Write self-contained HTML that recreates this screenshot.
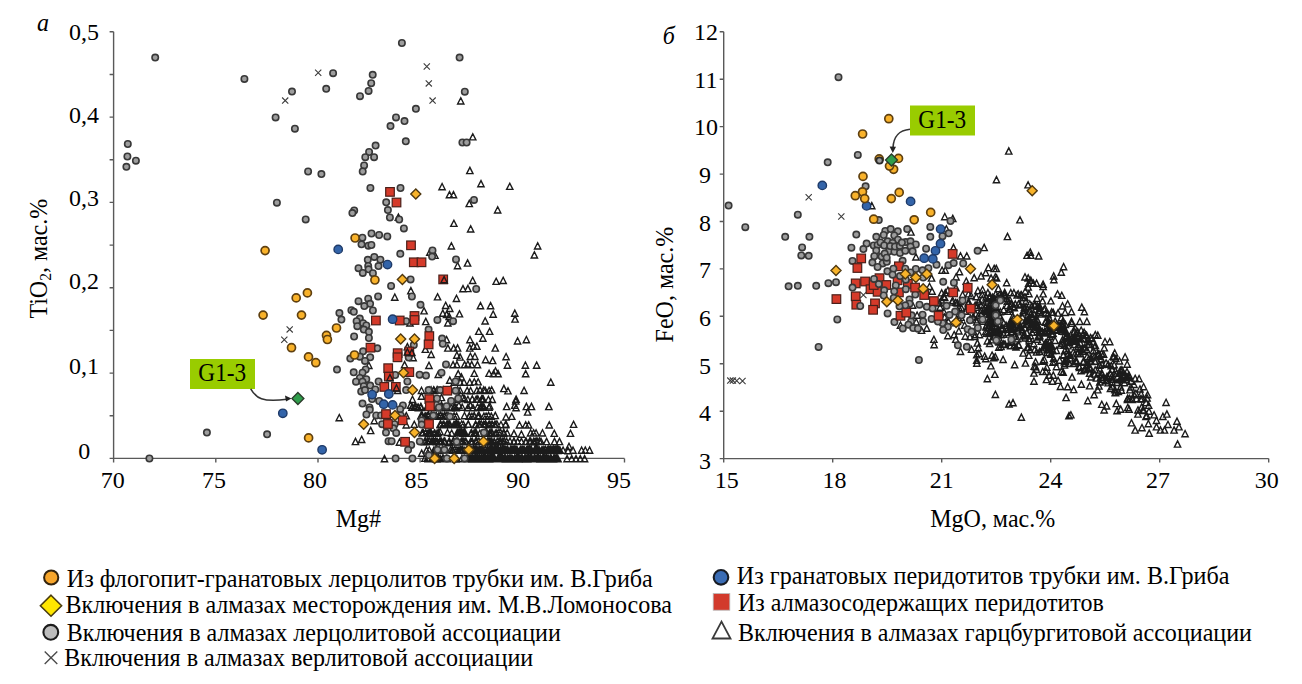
<!DOCTYPE html>
<html><head><meta charset="utf-8"><title>chart</title>
<style>
html,body{margin:0;padding:0;background:#fff;}
svg{display:block;font-family:"Liberation Serif",serif;font-size:24px;fill:#000;}
</style></head><body>
<svg width="1302" height="684" viewBox="0 0 1302 684">
<rect width="1302" height="684" fill="#fff"/>
<path d="M113.6 31.8V458.4H624.5M109.6 31.8h4M109.6 74.5h4M109.6 117.1h4M109.6 159.8h4M109.6 202.4h4M109.6 245.1h4M109.6 287.8h4M109.6 330.4h4M109.6 373.1h4M109.6 415.7h4M109.6 458.4h4M113.6 458.4v4M215.8 458.4v4M318 458.4v4M420.1 458.4v4M522.3 458.4v4M624.5 458.4v4M723.7 31.8V458.6H1268.7M719.7 31.8h4M719.7 79.2h4M719.7 126.6h4M719.7 174.1h4M719.7 221.5h4M719.7 268.9h4M719.7 316.3h4M719.7 363.8h4M719.7 411.2h4M719.7 458.6h4M723.7 458.6v4M832.7 458.6v4M941.7 458.6v4M1050.7 458.6v4M1159.7 458.6v4M1268.7 458.6v4" fill="none" stroke="#595959" stroke-width="1.4"/>
<g><path d="M498.8 455l3.1 6.2h-6.3zM527.9 454.9l3.1 6.2h-6.3zM517.7 455.2l3.1 6.2h-6.3zM475.2 455.4l3.1 6.2h-6.3zM473.3 455.3l3.1 6.2h-6.3zM476.2 454.9l3.1 6.2h-6.3zM507.8 455.7l3.1 6.2h-6.3zM481 455.1l3.1 6.2h-6.3zM525.8 455.8l3.1 6.2h-6.3zM521.4 455.2l3.1 6.2h-6.3zM556.9 454.9l3.1 6.2h-6.3zM546.4 455.1l3.1 6.2h-6.3zM482.8 455l3.1 6.2h-6.3zM497.5 455.7l3.1 6.2h-6.3zM486.1 455.4l3.1 6.2h-6.3zM526.9 455.2l3.1 6.2h-6.3zM518.7 454.9l3.1 6.2h-6.3zM475.3 455.1l3.1 6.2h-6.3zM530.6 455.3l3.1 6.2h-6.3zM498 455.4l3.1 6.2h-6.3zM510.3 455.1l3.1 6.2h-6.3zM540.7 455.5l3.1 6.2h-6.3zM491.7 455.4l3.1 6.2h-6.3zM516.7 455.7l3.1 6.2h-6.3zM534.9 455.1l3.1 6.2h-6.3zM557.2 455l3.1 6.2h-6.3zM507.2 455.6l3.1 6.2h-6.3zM483.5 455.3l3.1 6.2h-6.3zM473.5 455.5l3.1 6.2h-6.3zM538 455.4l3.1 6.2h-6.3zM547.9 455.2l3.1 6.2h-6.3zM531.9 455.4l3.1 6.2h-6.3zM521.6 455.3l3.1 6.2h-6.3zM544.8 455.8l3.1 6.2h-6.3zM512.2 455.5l3.1 6.2h-6.3zM475.4 455.6l3.1 6.2h-6.3zM527.6 455.8l3.1 6.2h-6.3zM543.2 455.1l3.1 6.2h-6.3zM504.3 455.5l3.1 6.2h-6.3zM472 455.3l3.1 6.2h-6.3zM485 455l3.1 6.2h-6.3zM475.2 455.6l3.1 6.2h-6.3zM481.5 455.1l3.1 6.2h-6.3zM504.8 455.7l3.1 6.2h-6.3zM477.2 455.3l3.1 6.2h-6.3zM518.9 455.7l3.1 6.2h-6.3zM542.9 455.7l3.1 6.2h-6.3zM494.8 455.3l3.1 6.2h-6.3zM501.9 455.7l3.1 6.2h-6.3zM555.2 455l3.1 6.2h-6.3zM485.7 455.1l3.1 6.2h-6.3zM490.8 455.3l3.1 6.2h-6.3zM522.4 455.1l3.1 6.2h-6.3zM470.4 455.3l3.1 6.2h-6.3zM502.9 455.4l3.1 6.2h-6.3zM554.8 455.5l3.1 6.2h-6.3zM515.9 455.5l3.1 6.2h-6.3zM530.2 454.9l3.1 6.2h-6.3zM550.1 455.6l3.1 6.2h-6.3zM547.8 455.6l3.1 6.2h-6.3zM504.9 455.2l3.1 6.2h-6.3zM479.2 455.5l3.1 6.2h-6.3zM475.5 454.9l3.1 6.2h-6.3zM488.6 455l3.1 6.2h-6.3zM500.3 454.9l3.1 6.2h-6.3zM470 455l3.1 6.2h-6.3zM479 455.2l3.1 6.2h-6.3zM472.3 455.7l3.1 6.2h-6.3zM524.7 455l3.1 6.2h-6.3zM492.5 455.2l3.1 6.2h-6.3zM502.4 455l3.1 6.2h-6.3zM545.6 455.8l3.1 6.2h-6.3zM511.5 455.3l3.1 6.2h-6.3zM477.6 455l3.1 6.2h-6.3zM500.5 455.1l3.1 6.2h-6.3zM543.8 455l3.1 6.2h-6.3zM472.1 455.8l3.1 6.2h-6.3zM517 455l3.1 6.2h-6.3zM518.3 454.9l3.1 6.2h-6.3zM517 455.8l3.1 6.2h-6.3zM546.8 455.5l3.1 6.2h-6.3zM493.2 455.2l3.1 6.2h-6.3zM484.9 455.6l3.1 6.2h-6.3zM517.4 455.6l3.1 6.2h-6.3zM499.3 455.1l3.1 6.2h-6.3zM542.2 455.8l3.1 6.2h-6.3zM545.9 455.7l3.1 6.2h-6.3zM542.8 455.6l3.1 6.2h-6.3zM490.2 455.4l3.1 6.2h-6.3zM501.6 454.9l3.1 6.2h-6.3zM472.5 455.1l3.1 6.2h-6.3zM493.1 455.5l3.1 6.2h-6.3zM555.1 455.3l3.1 6.2h-6.3zM553.4 455.8l3.1 6.2h-6.3zM555 455.2l3.1 6.2h-6.3zM489.6 455.1l3.1 6.2h-6.3zM487.5 455.1l3.1 6.2h-6.3zM525.5 455.8l3.1 6.2h-6.3zM544.8 455.3l3.1 6.2h-6.3zM528.1 455.6l3.1 6.2h-6.3zM477.5 455.5l3.1 6.2h-6.3zM551 455.6l3.1 6.2h-6.3zM536.8 455.3l3.1 6.2h-6.3zM485.9 455.6l3.1 6.2h-6.3zM499.6 455.7l3.1 6.2h-6.3zM556.5 455.2l3.1 6.2h-6.3zM505.7 455.8l3.1 6.2h-6.3zM534.5 455l3.1 6.2h-6.3zM481.3 455l3.1 6.2h-6.3zM550.5 455.7l3.1 6.2h-6.3zM483 455.7l3.1 6.2h-6.3zM557.2 455.5l3.1 6.2h-6.3zM501.2 455.4l3.1 6.2h-6.3zM481.7 454.9l3.1 6.2h-6.3zM556.4 455.5l3.1 6.2h-6.3zM516.9 455.8l3.1 6.2h-6.3zM508.6 455.7l3.1 6.2h-6.3zM543.5 455.1l3.1 6.2h-6.3zM492.4 455.1l3.1 6.2h-6.3zM491.4 455.4l3.1 6.2h-6.3zM493.1 455.3l3.1 6.2h-6.3zM481.7 455.8l3.1 6.2h-6.3zM501.5 455.3l3.1 6.2h-6.3zM521.9 455.8l3.1 6.2h-6.3zM507.4 455.8l3.1 6.2h-6.3zM514.6 455.4l3.1 6.2h-6.3zM516.6 454.9l3.1 6.2h-6.3zM509.2 455l3.1 6.2h-6.3zM470.3 455.6l3.1 6.2h-6.3zM485.3 455.3l3.1 6.2h-6.3zM534.5 455.4l3.1 6.2h-6.3zM499 455.4l3.1 6.2h-6.3zM519.4 455.6l3.1 6.2h-6.3zM479.4 455.4l3.1 6.2h-6.3zM492.1 455.1l3.1 6.2h-6.3zM538.7 455.4l3.1 6.2h-6.3zM520 455.6l3.1 6.2h-6.3zM551.2 455.3l3.1 6.2h-6.3zM524.5 455.4l3.1 6.2h-6.3zM515.6 455.5l3.1 6.2h-6.3zM510.3 455.4l3.1 6.2h-6.3zM512.5 455.8l3.1 6.2h-6.3zM532.2 455.7l3.1 6.2h-6.3zM553.9 455.1l3.1 6.2h-6.3zM519.8 455.8l3.1 6.2h-6.3zM544.8 455l3.1 6.2h-6.3zM480.8 455.3l3.1 6.2h-6.3zM476.5 455.1l3.1 6.2h-6.3zM476.5 455.5l3.1 6.2h-6.3zM539.8 455.7l3.1 6.2h-6.3zM483.7 455.6l3.1 6.2h-6.3zM528.8 455l3.1 6.2h-6.3zM548.6 455.8l3.1 6.2h-6.3zM489.5 455.8l3.1 6.2h-6.3zM505.4 455.3l3.1 6.2h-6.3zM558.1 455.7l3.1 6.2h-6.3zM484.4 455.3l3.1 6.2h-6.3zM515.9 455.2l3.1 6.2h-6.3zM487.4 455.2l3.1 6.2h-6.3zM534.3 454.9l3.1 6.2h-6.3zM519.3 455.3l3.1 6.2h-6.3zM471.6 455.2l3.1 6.2h-6.3zM525.5 455.4l3.1 6.2h-6.3zM475.7 455.8l3.1 6.2h-6.3zM540.2 455.8l3.1 6.2h-6.3zM479.3 455.1l3.1 6.2h-6.3zM473.5 455.6l3.1 6.2h-6.3zM494.1 455l3.1 6.2h-6.3zM507.6 455.8l3.1 6.2h-6.3zM542.9 455.1l3.1 6.2h-6.3zM483.3 455.8l3.1 6.2h-6.3zM520.8 455.6l3.1 6.2h-6.3zM478 454.9l3.1 6.2h-6.3zM531.3 455.3l3.1 6.2h-6.3zM476.4 455.8l3.1 6.2h-6.3zM526.5 455.7l3.1 6.2h-6.3zM477.5 455.7l3.1 6.2h-6.3zM475.9 455.7l3.1 6.2h-6.3zM510.4 455.2l3.1 6.2h-6.3zM519.2 455.8l3.1 6.2h-6.3zM493.8 455l3.1 6.2h-6.3zM516.9 455.1l3.1 6.2h-6.3zM479.7 455l3.1 6.2h-6.3zM474.5 455.1l3.1 6.2h-6.3zM497.8 455.2l3.1 6.2h-6.3zM537.6 455.1l3.1 6.2h-6.3zM514.5 455l3.1 6.2h-6.3zM500.9 454.9l3.1 6.2h-6.3zM492.3 454.9l3.1 6.2h-6.3zM535.2 455.4l3.1 6.2h-6.3zM433.5 455.3l3.1 6.2h-6.3zM467.1 455l3.1 6.2h-6.3zM461.9 455.3l3.1 6.2h-6.3zM447.3 455.7l3.1 6.2h-6.3zM442.7 455.4l3.1 6.2h-6.3zM455.9 455.8l3.1 6.2h-6.3zM440.4 455.7l3.1 6.2h-6.3zM456.8 455.5l3.1 6.2h-6.3zM443.2 455.2l3.1 6.2h-6.3zM427.4 455l3.1 6.2h-6.3zM428.2 455.6l3.1 6.2h-6.3zM436.5 455l3.1 6.2h-6.3zM428.8 455.7l3.1 6.2h-6.3zM464.2 455.5l3.1 6.2h-6.3zM437.7 455.1l3.1 6.2h-6.3zM438.2 455.3l3.1 6.2h-6.3zM432.1 455.3l3.1 6.2h-6.3zM436.8 455.8l3.1 6.2h-6.3zM468.8 455.4l3.1 6.2h-6.3zM436 455.8l3.1 6.2h-6.3zM438.9 455.2l3.1 6.2h-6.3zM425 455.2l3.1 6.2h-6.3zM446.4 455.4l3.1 6.2h-6.3zM434 455.4l3.1 6.2h-6.3zM470.4 446.6l3.1 6.2h-6.3zM478.1 446.7l3.1 6.2h-6.3zM473.8 446.3l3.1 6.2h-6.3zM497.4 446.6l3.1 6.2h-6.3zM522.7 446.8l3.1 6.2h-6.3zM537.5 447l3.1 6.2h-6.3zM534.4 447.2l3.1 6.2h-6.3zM505.1 446.6l3.1 6.2h-6.3zM558.6 446.5l3.1 6.2h-6.3zM535.2 447l3.1 6.2h-6.3zM473.9 447.2l3.1 6.2h-6.3zM550.3 446.9l3.1 6.2h-6.3zM536 447.1l3.1 6.2h-6.3zM482.5 446.8l3.1 6.2h-6.3zM515.4 447.2l3.1 6.2h-6.3zM542.4 447.1l3.1 6.2h-6.3zM522.6 447.2l3.1 6.2h-6.3zM531.5 447l3.1 6.2h-6.3zM490.7 446.4l3.1 6.2h-6.3zM482 446.7l3.1 6.2h-6.3zM479.4 447.2l3.1 6.2h-6.3zM520.3 446.9l3.1 6.2h-6.3zM526.4 447l3.1 6.2h-6.3zM514 446.3l3.1 6.2h-6.3zM541.8 447.1l3.1 6.2h-6.3zM515.3 446.9l3.1 6.2h-6.3zM529.3 446.4l3.1 6.2h-6.3zM536.3 446.6l3.1 6.2h-6.3zM476.7 446.6l3.1 6.2h-6.3zM535.6 446.5l3.1 6.2h-6.3zM536.6 447.3l3.1 6.2h-6.3zM514.5 446.7l3.1 6.2h-6.3zM513.1 447l3.1 6.2h-6.3zM539 446.9l3.1 6.2h-6.3zM527.8 446.4l3.1 6.2h-6.3zM483.3 446.6l3.1 6.2h-6.3zM536.9 446.6l3.1 6.2h-6.3zM521.1 446.3l3.1 6.2h-6.3zM475.5 446.6l3.1 6.2h-6.3zM530.5 447l3.1 6.2h-6.3zM530.8 446.6l3.1 6.2h-6.3zM516.5 446.8l3.1 6.2h-6.3zM512 446.4l3.1 6.2h-6.3zM550.4 446.5l3.1 6.2h-6.3zM558 447.3l3.1 6.2h-6.3zM471.6 446.8l3.1 6.2h-6.3zM543.8 447.3l3.1 6.2h-6.3zM510.5 446.6l3.1 6.2h-6.3zM488.9 447.3l3.1 6.2h-6.3zM489 446.9l3.1 6.2h-6.3zM482.8 446.8l3.1 6.2h-6.3zM555.7 446.5l3.1 6.2h-6.3zM543.8 446.8l3.1 6.2h-6.3zM549.8 447l3.1 6.2h-6.3zM490.8 447.2l3.1 6.2h-6.3zM513.8 446.3l3.1 6.2h-6.3zM470.3 446.8l3.1 6.2h-6.3zM510.6 446.6l3.1 6.2h-6.3zM482.7 446.7l3.1 6.2h-6.3zM498.4 447.2l3.1 6.2h-6.3zM470.2 447.1l3.1 6.2h-6.3zM545.5 446.4l3.1 6.2h-6.3zM553.4 447l3.1 6.2h-6.3zM551.1 446.6l3.1 6.2h-6.3zM503.5 446.7l3.1 6.2h-6.3zM559.9 446.9l3.1 6.2h-6.3zM502.5 446.7l3.1 6.2h-6.3zM494.8 446.4l3.1 6.2h-6.3zM479.2 447.2l3.1 6.2h-6.3zM495.7 447.3l3.1 6.2h-6.3zM492.4 446.6l3.1 6.2h-6.3zM516 446.5l3.1 6.2h-6.3zM503.6 447.3l3.1 6.2h-6.3zM549.6 447.1l3.1 6.2h-6.3zM526.8 447.2l3.1 6.2h-6.3zM554.7 446.9l3.1 6.2h-6.3zM534.8 446.4l3.1 6.2h-6.3zM535.9 446.8l3.1 6.2h-6.3zM537.7 447l3.1 6.2h-6.3zM495.8 446.4l3.1 6.2h-6.3zM553.4 446.4l3.1 6.2h-6.3zM512.5 446.7l3.1 6.2h-6.3zM496.8 447.1l3.1 6.2h-6.3zM557.9 446.6l3.1 6.2h-6.3zM529 446.6l3.1 6.2h-6.3zM520.2 446.7l3.1 6.2h-6.3zM485.1 446.5l3.1 6.2h-6.3zM488.7 447.2l3.1 6.2h-6.3zM514.7 446.5l3.1 6.2h-6.3zM551.6 447.3l3.1 6.2h-6.3zM510.5 446.5l3.1 6.2h-6.3zM487.3 446.4l3.1 6.2h-6.3zM500.8 446.4l3.1 6.2h-6.3zM491.5 446.6l3.1 6.2h-6.3zM521.3 447.2l3.1 6.2h-6.3zM537.5 446.7l3.1 6.2h-6.3zM507.2 446.8l3.1 6.2h-6.3zM503.9 446.7l3.1 6.2h-6.3zM475.6 446.6l3.1 6.2h-6.3zM557.1 446.4l3.1 6.2h-6.3zM515.3 446.9l3.1 6.2h-6.3zM547.7 446.5l3.1 6.2h-6.3zM494.4 446.6l3.1 6.2h-6.3zM506 446.8l3.1 6.2h-6.3zM555.9 447.2l3.1 6.2h-6.3zM548.6 446.3l3.1 6.2h-6.3zM472.9 447l3.1 6.2h-6.3zM550.6 446.8l3.1 6.2h-6.3zM522.8 446.3l3.1 6.2h-6.3zM505.2 447.2l3.1 6.2h-6.3zM544.3 447.2l3.1 6.2h-6.3zM557.5 446.6l3.1 6.2h-6.3zM479.8 446.5l3.1 6.2h-6.3zM517 447l3.1 6.2h-6.3zM554.7 447l3.1 6.2h-6.3zM528.3 447.1l3.1 6.2h-6.3zM511.2 446.9l3.1 6.2h-6.3zM473.6 447.1l3.1 6.2h-6.3zM490.9 447.2l3.1 6.2h-6.3zM528.1 446.6l3.1 6.2h-6.3zM481.5 446.6l3.1 6.2h-6.3zM527.3 447l3.1 6.2h-6.3zM480.1 446.4l3.1 6.2h-6.3zM517.2 446.9l3.1 6.2h-6.3zM504.9 446.5l3.1 6.2h-6.3zM524.1 446.3l3.1 6.2h-6.3zM497.1 446.8l3.1 6.2h-6.3zM556.3 447l3.1 6.2h-6.3zM549.5 446.8l3.1 6.2h-6.3zM491.1 446.6l3.1 6.2h-6.3zM556.5 447l3.1 6.2h-6.3zM497.7 446.3l3.1 6.2h-6.3zM514.8 447l3.1 6.2h-6.3zM507.8 446.6l3.1 6.2h-6.3zM530.1 447.2l3.1 6.2h-6.3zM490.4 446.4l3.1 6.2h-6.3zM500.4 446.7l3.1 6.2h-6.3zM531.4 446.5l3.1 6.2h-6.3zM541.7 447.1l3.1 6.2h-6.3zM515.4 446.5l3.1 6.2h-6.3zM557.3 446.6l3.1 6.2h-6.3zM543.8 446.6l3.1 6.2h-6.3zM489.9 447.1l3.1 6.2h-6.3zM496.5 447.3l3.1 6.2h-6.3zM514.6 446.5l3.1 6.2h-6.3zM490.1 446.7l3.1 6.2h-6.3zM529.9 447.3l3.1 6.2h-6.3zM483.2 446.7l3.1 6.2h-6.3zM489.2 447.3l3.1 6.2h-6.3zM482.8 446.4l3.1 6.2h-6.3zM475.4 446.7l3.1 6.2h-6.3zM550.8 447.2l3.1 6.2h-6.3zM535.9 447.3l3.1 6.2h-6.3zM553.8 446.6l3.1 6.2h-6.3zM486.7 447.3l3.1 6.2h-6.3zM537.2 446.4l3.1 6.2h-6.3zM529.8 446.7l3.1 6.2h-6.3zM503.6 446.7l3.1 6.2h-6.3zM485.2 446.3l3.1 6.2h-6.3zM495.2 446.7l3.1 6.2h-6.3zM556 446.4l3.1 6.2h-6.3zM556.8 446.5l3.1 6.2h-6.3zM502.1 447.1l3.1 6.2h-6.3zM544 446.8l3.1 6.2h-6.3zM474.4 446.8l3.1 6.2h-6.3zM503.5 447.2l3.1 6.2h-6.3zM487.4 446.7l3.1 6.2h-6.3zM550.7 446.4l3.1 6.2h-6.3zM507 447.1l3.1 6.2h-6.3zM539 446.4l3.1 6.2h-6.3zM473.1 446.4l3.1 6.2h-6.3zM552.8 446.6l3.1 6.2h-6.3zM537.3 447.2l3.1 6.2h-6.3zM500.5 446.6l3.1 6.2h-6.3zM556.2 446.9l3.1 6.2h-6.3zM493.6 447l3.1 6.2h-6.3zM498.5 446.6l3.1 6.2h-6.3zM470.3 447.1l3.1 6.2h-6.3zM552.5 447l3.1 6.2h-6.3zM554.9 446.3l3.1 6.2h-6.3zM435.5 446.8l3.1 6.2h-6.3zM468.1 447.3l3.1 6.2h-6.3zM442.4 446.6l3.1 6.2h-6.3zM444.3 446.8l3.1 6.2h-6.3zM466.8 446.5l3.1 6.2h-6.3zM461.1 447.1l3.1 6.2h-6.3zM462 447.1l3.1 6.2h-6.3zM452.3 446.6l3.1 6.2h-6.3zM439.4 446.7l3.1 6.2h-6.3zM460.2 446.4l3.1 6.2h-6.3zM433.9 447.1l3.1 6.2h-6.3zM436.1 446.4l3.1 6.2h-6.3zM426.5 446.9l3.1 6.2h-6.3zM439.7 447.3l3.1 6.2h-6.3zM464.8 447.3l3.1 6.2h-6.3zM436.9 446.4l3.1 6.2h-6.3zM429.3 446.8l3.1 6.2h-6.3zM456.9 446.8l3.1 6.2h-6.3zM435.5 446.7l3.1 6.2h-6.3zM452.9 447l3.1 6.2h-6.3zM458.7 447.2l3.1 6.2h-6.3zM454.9 446.4l3.1 6.2h-6.3zM462.8 446.6l3.1 6.2h-6.3zM450.5 446.7l3.1 6.2h-6.3zM483.8 438l3.1 6.2h-6.3zM444 438l3.1 6.2h-6.3zM436.4 438.7l3.1 6.2h-6.3zM470.8 438.1l3.1 6.2h-6.3zM456.1 438.8l3.1 6.2h-6.3zM465.1 438l3.1 6.2h-6.3zM489.5 438.4l3.1 6.2h-6.3zM504.3 437.9l3.1 6.2h-6.3zM462.5 438.6l3.1 6.2h-6.3zM492.1 438.7l3.1 6.2h-6.3zM427.3 438.1l3.1 6.2h-6.3zM433.7 438l3.1 6.2h-6.3zM502.8 438.4l3.1 6.2h-6.3zM499.3 438.2l3.1 6.2h-6.3zM494.2 438.2l3.1 6.2h-6.3zM445.1 438.6l3.1 6.2h-6.3zM500.6 437.9l3.1 6.2h-6.3zM472.3 438.4l3.1 6.2h-6.3zM441.6 438.2l3.1 6.2h-6.3zM435.5 438l3.1 6.2h-6.3zM444.6 438.4l3.1 6.2h-6.3zM476.8 438l3.1 6.2h-6.3zM424.9 438.1l3.1 6.2h-6.3zM478.9 438l3.1 6.2h-6.3zM449.3 438l3.1 6.2h-6.3zM488.4 438.3l3.1 6.2h-6.3zM429.1 437.9l3.1 6.2h-6.3zM456 438.3l3.1 6.2h-6.3zM475.8 437.9l3.1 6.2h-6.3zM437.3 438.5l3.1 6.2h-6.3zM457.2 438.1l3.1 6.2h-6.3zM448.9 438.7l3.1 6.2h-6.3zM449.3 438.4l3.1 6.2h-6.3zM452.9 438.2l3.1 6.2h-6.3zM494 438.8l3.1 6.2h-6.3zM453.5 438l3.1 6.2h-6.3zM483 438l3.1 6.2h-6.3zM424.5 438.7l3.1 6.2h-6.3zM458.3 438.6l3.1 6.2h-6.3zM456.9 438.7l3.1 6.2h-6.3zM461.3 438l3.1 6.2h-6.3zM425.2 438.3l3.1 6.2h-6.3zM475.9 438.7l3.1 6.2h-6.3zM431.2 438.4l3.1 6.2h-6.3zM454 438.3l3.1 6.2h-6.3zM435.8 438.1l3.1 6.2h-6.3zM466.2 438.7l3.1 6.2h-6.3zM432.8 438.3l3.1 6.2h-6.3zM489.2 438.8l3.1 6.2h-6.3zM440 437.9l3.1 6.2h-6.3zM500.4 438.8l3.1 6.2h-6.3zM463.1 437.8l3.1 6.2h-6.3zM499 438.2l3.1 6.2h-6.3zM497.2 438.4l3.1 6.2h-6.3zM490.8 438l3.1 6.2h-6.3zM487.7 438l3.1 6.2h-6.3zM456.8 438.6l3.1 6.2h-6.3zM491.2 438l3.1 6.2h-6.3zM513.9 438.2l3.1 6.2h-6.3zM526.2 438.2l3.1 6.2h-6.3zM510 438l3.1 6.2h-6.3zM534.7 438.7l3.1 6.2h-6.3zM506.7 438.4l3.1 6.2h-6.3zM536.1 437.8l3.1 6.2h-6.3zM539.4 437.9l3.1 6.2h-6.3zM529.6 438.3l3.1 6.2h-6.3zM530.7 438.1l3.1 6.2h-6.3zM457 429.8l3.1 6.2h-6.3zM457.5 429.9l3.1 6.2h-6.3zM459.3 429.7l3.1 6.2h-6.3zM422.1 429.9l3.1 6.2h-6.3zM463.1 429.5l3.1 6.2h-6.3zM487.2 430l3.1 6.2h-6.3zM460.3 429.4l3.1 6.2h-6.3zM461.6 429.4l3.1 6.2h-6.3zM431.3 429.7l3.1 6.2h-6.3zM428.1 429.7l3.1 6.2h-6.3zM464.9 429.3l3.1 6.2h-6.3zM476 429.3l3.1 6.2h-6.3zM484.5 430l3.1 6.2h-6.3zM465 429.3l3.1 6.2h-6.3zM464.3 429.6l3.1 6.2h-6.3zM503.7 429.4l3.1 6.2h-6.3zM495.4 430.3l3.1 6.2h-6.3zM484.4 430.1l3.1 6.2h-6.3zM437 430.2l3.1 6.2h-6.3zM463.3 430.2l3.1 6.2h-6.3zM500.6 429.4l3.1 6.2h-6.3zM489.4 430.2l3.1 6.2h-6.3zM425.8 429.6l3.1 6.2h-6.3zM486.5 429.4l3.1 6.2h-6.3zM498.9 429.5l3.1 6.2h-6.3zM491.8 429.4l3.1 6.2h-6.3zM464.2 430.2l3.1 6.2h-6.3zM438.3 429.5l3.1 6.2h-6.3zM464.5 429.6l3.1 6.2h-6.3zM423.2 429.4l3.1 6.2h-6.3zM434.2 430.2l3.1 6.2h-6.3zM479.8 430.2l3.1 6.2h-6.3zM434.8 430l3.1 6.2h-6.3zM430.1 429.8l3.1 6.2h-6.3zM476 429.6l3.1 6.2h-6.3zM496.8 429.8l3.1 6.2h-6.3zM471 430.1l3.1 6.2h-6.3zM429.2 430.3l3.1 6.2h-6.3zM475.4 429.7l3.1 6.2h-6.3zM490.2 429.5l3.1 6.2h-6.3zM507.2 429.8l3.1 6.2h-6.3zM451.7 430l3.1 6.2h-6.3zM458.9 429.4l3.1 6.2h-6.3zM485.4 429.3l3.1 6.2h-6.3zM492.1 429.5l3.1 6.2h-6.3zM476.3 430.2l3.1 6.2h-6.3zM471.6 429.9l3.1 6.2h-6.3zM447.5 429.3l3.1 6.2h-6.3zM423 429.4l3.1 6.2h-6.3zM474.2 429.7l3.1 6.2h-6.3zM475.9 421.6l3.1 6.2h-6.3zM449.2 421l3.1 6.2h-6.3zM485.7 420.8l3.1 6.2h-6.3zM440.2 421.1l3.1 6.2h-6.3zM447.4 421.1l3.1 6.2h-6.3zM455.7 421.3l3.1 6.2h-6.3zM481.2 420.9l3.1 6.2h-6.3zM483.7 421.2l3.1 6.2h-6.3zM449.4 421.7l3.1 6.2h-6.3zM457.1 420.9l3.1 6.2h-6.3zM446.7 421.4l3.1 6.2h-6.3zM501 421.5l3.1 6.2h-6.3zM468.1 421l3.1 6.2h-6.3zM440.8 421.4l3.1 6.2h-6.3zM479.4 421.1l3.1 6.2h-6.3zM485.2 421.2l3.1 6.2h-6.3zM505.6 421.5l3.1 6.2h-6.3zM457.4 421.6l3.1 6.2h-6.3zM443.1 421.3l3.1 6.2h-6.3zM468.4 421l3.1 6.2h-6.3zM444.1 421.5l3.1 6.2h-6.3zM440.9 421.3l3.1 6.2h-6.3zM505.9 420.9l3.1 6.2h-6.3zM454 421.3l3.1 6.2h-6.3zM475.5 421.4l3.1 6.2h-6.3zM496.9 420.9l3.1 6.2h-6.3zM461.7 421l3.1 6.2h-6.3zM443.4 421.6l3.1 6.2h-6.3zM494.8 421.4l3.1 6.2h-6.3zM440.4 421.6l3.1 6.2h-6.3zM492.2 421.2l3.1 6.2h-6.3zM491.9 421.2l3.1 6.2h-6.3zM455.8 420.8l3.1 6.2h-6.3zM456.3 420.8l3.1 6.2h-6.3zM463.5 421.5l3.1 6.2h-6.3zM488.7 421.6l3.1 6.2h-6.3zM489.8 421l3.1 6.2h-6.3zM478.8 421.2l3.1 6.2h-6.3zM495.2 421.3l3.1 6.2h-6.3zM458.6 421.4l3.1 6.2h-6.3zM495.3 412.4l3.1 6.2h-6.3zM488.6 412.2l3.1 6.2h-6.3zM440.3 412.4l3.1 6.2h-6.3zM478 413.1l3.1 6.2h-6.3zM478.2 412.5l3.1 6.2h-6.3zM488.7 412.5l3.1 6.2h-6.3zM438.7 413.1l3.1 6.2h-6.3zM469.2 412.9l3.1 6.2h-6.3zM471.9 413.2l3.1 6.2h-6.3zM456.6 413l3.1 6.2h-6.3zM474.4 413.1l3.1 6.2h-6.3zM454.1 412.9l3.1 6.2h-6.3zM464.5 412.5l3.1 6.2h-6.3zM436.5 412.8l3.1 6.2h-6.3zM426.1 413.1l3.1 6.2h-6.3zM431.3 412.2l3.1 6.2h-6.3zM428.3 413.1l3.1 6.2h-6.3zM446.9 412.3l3.1 6.2h-6.3zM422.2 412.2l3.1 6.2h-6.3zM474 412.8l3.1 6.2h-6.3zM474.4 412.9l3.1 6.2h-6.3zM425.1 412.8l3.1 6.2h-6.3zM448.3 413l3.1 6.2h-6.3zM483.9 413.1l3.1 6.2h-6.3zM425.1 413.1l3.1 6.2h-6.3zM491.3 413.1l3.1 6.2h-6.3zM428.4 412.4l3.1 6.2h-6.3zM428.7 412.2l3.1 6.2h-6.3zM486.1 413l3.1 6.2h-6.3zM469.5 413l3.1 6.2h-6.3zM469.3 412.5l3.1 6.2h-6.3zM427.8 412.3l3.1 6.2h-6.3zM479.1 412.4l3.1 6.2h-6.3zM444.9 412.6l3.1 6.2h-6.3zM421.6 412.5l3.1 6.2h-6.3zM442 412.9l3.1 6.2h-6.3zM441.4 404l3.1 6.2h-6.3zM489.1 404.2l3.1 6.2h-6.3zM480.1 404.3l3.1 6.2h-6.3zM414.5 404.1l3.1 6.2h-6.3zM446.9 404.4l3.1 6.2h-6.3zM439.7 404.4l3.1 6.2h-6.3zM455 403.9l3.1 6.2h-6.3zM481 403.8l3.1 6.2h-6.3zM477.6 403.8l3.1 6.2h-6.3zM412.1 403.9l3.1 6.2h-6.3zM473 404.6l3.1 6.2h-6.3zM412.3 404.2l3.1 6.2h-6.3zM451.3 404.5l3.1 6.2h-6.3zM426.8 404.2l3.1 6.2h-6.3zM439.8 404.5l3.1 6.2h-6.3zM432.8 404.6l3.1 6.2h-6.3zM434.7 403.9l3.1 6.2h-6.3zM468 404.2l3.1 6.2h-6.3zM420.8 404.3l3.1 6.2h-6.3zM418.5 404.5l3.1 6.2h-6.3zM467.8 404.5l3.1 6.2h-6.3zM462.2 404l3.1 6.2h-6.3zM444.1 404.1l3.1 6.2h-6.3zM483.2 403.8l3.1 6.2h-6.3zM483.1 403.7l3.1 6.2h-6.3zM428.5 403.9l3.1 6.2h-6.3zM484.1 404.2l3.1 6.2h-6.3zM442.3 404.6l3.1 6.2h-6.3zM459.8 395.6l3.1 6.2h-6.3zM472.3 395.9l3.1 6.2h-6.3zM481.6 395.8l3.1 6.2h-6.3zM464.6 395.5l3.1 6.2h-6.3zM456.5 396l3.1 6.2h-6.3zM477.8 395.9l3.1 6.2h-6.3zM457.1 395.6l3.1 6.2h-6.3zM482.5 395.7l3.1 6.2h-6.3zM429.1 387.1l3.1 6.2h-6.3zM483.7 386.8l3.1 6.2h-6.3zM433.8 386.9l3.1 6.2h-6.3zM470.6 387.5l3.1 6.2h-6.3zM431.1 386.8l3.1 6.2h-6.3zM437.8 386.9l3.1 6.2h-6.3zM457.6 386.8l3.1 6.2h-6.3zM443.6 386.8l3.1 6.2h-6.3z" fill="none" stroke="#1b1b1b" stroke-width="1.4" stroke-linejoin="miter"/>
<path d="M460.8 97.8l3.1 6.2h-6.3zM472.8 133.7l3.1 6.2h-6.3zM469.9 167.4l3.1 6.2h-6.3zM442.1 183.5l3.1 6.2h-6.3zM481 180.6l3.1 6.2h-6.3zM449.5 191.6l3.1 6.2h-6.3zM453.5 191.6l3.1 6.2h-6.3zM469.3 200.4l3.1 6.2h-6.3zM497.7 206.8l3.1 6.2h-6.3zM453.9 220.2l3.1 6.2h-6.3zM470.7 225.8l3.1 6.2h-6.3zM398.4 214.1l3.1 6.2h-6.3zM509.8 183.2l3.1 6.2h-6.3zM451.4 242.8l3.1 6.2h-6.3zM429.9 249l3.1 6.2h-6.3zM435 252.2l3.1 6.2h-6.3zM457.6 262.5l3.1 6.2h-6.3zM444.1 276.6l3.1 6.2h-6.3zM410.9 287.6l3.1 6.2h-6.3zM394.8 294l3.1 6.2h-6.3zM437.6 293.7l3.1 6.2h-6.3zM456.5 295.3l3.1 6.2h-6.3zM445.7 302.3l3.1 6.2h-6.3zM449.8 305.3l3.1 6.2h-6.3zM424.1 307.7l3.1 6.2h-6.3zM442.8 310.1l3.1 6.2h-6.3zM446.6 311.3l3.1 6.2h-6.3zM449.2 313.3l3.1 6.2h-6.3zM425.8 318.4l3.1 6.2h-6.3zM459.5 310.7l3.1 6.2h-6.3zM537.7 242.8l3.1 6.2h-6.3zM534.4 251.8l3.1 6.2h-6.3zM467.6 259.9l3.1 6.2h-6.3zM472.7 277.3l3.1 6.2h-6.3zM496.2 278.2l3.1 6.2h-6.3zM503.2 277.3l3.1 6.2h-6.3zM463 285.6l3.1 6.2h-6.3zM467.9 285.4l3.1 6.2h-6.3zM480.5 302.6l3.1 6.2h-6.3zM490.6 302.6l3.1 6.2h-6.3zM493.2 311l3.1 6.2h-6.3zM514.8 310.1l3.1 6.2h-6.3zM515.1 315.9l3.1 6.2h-6.3zM485.2 317.8l3.1 6.2h-6.3zM368.9 362.3l3.1 6.2h-6.3zM410 319.8l3.1 6.2h-6.3zM447.9 319.8l3.1 6.2h-6.3zM446.6 336.5l3.1 6.2h-6.3zM407.4 343.6l3.1 6.2h-6.3zM425.4 346.2l3.1 6.2h-6.3zM447.9 344.9l3.1 6.2h-6.3zM453.7 344.9l3.1 6.2h-6.3zM457.6 344.9l3.1 6.2h-6.3zM431.2 351.3l3.1 6.2h-6.3zM456.9 352l3.1 6.2h-6.3zM413.2 354.5l3.1 6.2h-6.3zM404.6 361.6l3.1 6.2h-6.3zM429 362.3l3.1 6.2h-6.3zM453.1 361.6l3.1 6.2h-6.3zM456.9 361.6l3.1 6.2h-6.3zM438.3 371.3l3.1 6.2h-6.3zM458.2 370.6l3.1 6.2h-6.3zM449.8 377.1l3.1 6.2h-6.3zM454.3 379l3.1 6.2h-6.3zM421.5 387.3l3.1 6.2h-6.3zM433.8 387.3l3.1 6.2h-6.3zM437 386.7l3.1 6.2h-6.3zM397.7 387.3l3.1 6.2h-6.3zM421.5 393.1l3.1 6.2h-6.3zM412.5 396.3l3.1 6.2h-6.3zM441.5 394.4l3.1 6.2h-6.3zM458.8 394.4l3.1 6.2h-6.3zM410.6 402.1l3.1 6.2h-6.3zM415.8 403.4l3.1 6.2h-6.3zM420.9 403.4l3.1 6.2h-6.3zM441.5 402.1l3.1 6.2h-6.3zM454.3 403.4l3.1 6.2h-6.3zM478.8 328.2l3.1 6.2h-6.3zM489.7 328.2l3.1 6.2h-6.3zM470 336.5l3.1 6.2h-6.3zM482.9 335l3.1 6.2h-6.3zM517.6 337.8l3.1 6.2h-6.3zM526.4 336.5l3.1 6.2h-6.3zM469.8 344.9l3.1 6.2h-6.3zM473.6 343l3.1 6.2h-6.3zM476.9 343l3.1 6.2h-6.3zM495.3 344.9l3.1 6.2h-6.3zM460.1 353.9l3.1 6.2h-6.3zM470.4 353.3l3.1 6.2h-6.3zM474.9 353.3l3.1 6.2h-6.3zM485.6 356.5l3.1 6.2h-6.3zM492.7 357.4l3.1 6.2h-6.3zM506.1 353.5l3.1 6.2h-6.3zM464.6 361.6l3.1 6.2h-6.3zM467.9 361l3.1 6.2h-6.3zM471.7 361.6l3.1 6.2h-6.3zM477.5 361.6l3.1 6.2h-6.3zM507.5 362l3.1 6.2h-6.3zM525.4 362l3.1 6.2h-6.3zM536.7 362l3.1 6.2h-6.3zM474.3 370.2l3.1 6.2h-6.3zM489.1 370.2l3.1 6.2h-6.3zM493.6 370.6l3.1 6.2h-6.3zM495.5 367.7l3.1 6.2h-6.3zM498.1 370.6l3.1 6.2h-6.3zM525.7 370.6l3.1 6.2h-6.3zM461.4 373.8l3.1 6.2h-6.3zM460.1 379l3.1 6.2h-6.3zM464 379l3.1 6.2h-6.3zM469.8 379l3.1 6.2h-6.3zM474.3 378.7l3.1 6.2h-6.3zM478.2 378.7l3.1 6.2h-6.3zM550.8 379l3.1 6.2h-6.3zM460.1 387.3l3.1 6.2h-6.3zM467.2 387.3l3.1 6.2h-6.3zM476.9 387.3l3.1 6.2h-6.3zM480.1 386.7l3.1 6.2h-6.3zM485.2 387.3l3.1 6.2h-6.3zM489.1 387.3l3.1 6.2h-6.3zM491.7 386.7l3.1 6.2h-6.3zM503.9 385.4l3.1 6.2h-6.3zM508 387.7l3.1 6.2h-6.3zM524.1 387.3l3.1 6.2h-6.3zM516.1 396l3.1 6.2h-6.3zM467.9 396.3l3.1 6.2h-6.3zM476.2 396l3.1 6.2h-6.3zM483.3 396l3.1 6.2h-6.3zM488.4 396.3l3.1 6.2h-6.3zM492.3 396.3l3.1 6.2h-6.3zM470.4 402.1l3.1 6.2h-6.3zM482 403.4l3.1 6.2h-6.3zM489.7 402.8l3.1 6.2h-6.3zM506.7 403.4l3.1 6.2h-6.3zM514.8 402.1l3.1 6.2h-6.3zM526.4 403.4l3.1 6.2h-6.3zM531.5 403.4l3.1 6.2h-6.3zM548.9 403.4l3.1 6.2h-6.3zM462.7 394.4l3.1 6.2h-6.3zM458.9 402.1l3.1 6.2h-6.3zM339.3 414.5l3.1 6.2h-6.3zM374.3 417.5l3.1 6.2h-6.3zM370.7 427.4l3.1 6.2h-6.3zM355.5 438.4l3.1 6.2h-6.3zM361.7 436.3l3.1 6.2h-6.3zM384.5 455.6l3.1 6.2h-6.3zM418 404l3.1 6.2h-6.3zM406.3 412.6l3.1 6.2h-6.3zM406.3 421.8l3.1 6.2h-6.3zM414.3 421.2l3.1 6.2h-6.3zM421 412.6l3.1 6.2h-6.3zM444.4 412.6l3.1 6.2h-6.3zM449.3 420l3.1 6.2h-6.3zM430.3 429.8l3.1 6.2h-6.3zM440.1 428.6l3.1 6.2h-6.3zM456.1 404.6l3.1 6.2h-6.3zM399.5 439l3.1 6.2h-6.3zM421.7 450.1l3.1 6.2h-6.3zM425.3 438.4l3.1 6.2h-6.3zM440.1 438.4l3.1 6.2h-6.3zM448.7 439.6l3.1 6.2h-6.3zM516.1 404.6l3.1 6.2h-6.3zM515.8 397.9l3.1 6.2h-6.3zM527.7 408.9l3.1 6.2h-6.3zM506 413.8l3.1 6.2h-6.3zM511.8 413.2l3.1 6.2h-6.3zM519.5 421.8l3.1 6.2h-6.3zM525.7 421.8l3.1 6.2h-6.3zM528.7 421.8l3.1 6.2h-6.3zM549.3 421.8l3.1 6.2h-6.3zM573.6 421.2l3.1 6.2h-6.3zM503.9 430.4l3.1 6.2h-6.3zM514 430.4l3.1 6.2h-6.3zM521.4 431l3.1 6.2h-6.3zM530.6 429.8l3.1 6.2h-6.3zM533.6 429.8l3.1 6.2h-6.3zM536.1 429.8l3.1 6.2h-6.3zM542.5 429.8l3.1 6.2h-6.3zM554.3 430.2l3.1 6.2h-6.3zM570.5 430.2l3.1 6.2h-6.3zM514 438.4l3.1 6.2h-6.3zM517.7 438.4l3.1 6.2h-6.3zM521.4 438.4l3.1 6.2h-6.3zM525.7 438.4l3.1 6.2h-6.3zM530 438.4l3.1 6.2h-6.3zM533.6 438.4l3.1 6.2h-6.3zM537.3 438.4l3.1 6.2h-6.3zM541 438.4l3.1 6.2h-6.3zM546.6 438.4l3.1 6.2h-6.3zM554.5 438.4l3.1 6.2h-6.3zM559.5 438.4l3.1 6.2h-6.3zM569 443.3l3.1 6.2h-6.3zM563.1 447l3.1 6.2h-6.3zM568.1 447.6l3.1 6.2h-6.3zM573 447l3.1 6.2h-6.3zM581.6 447l3.1 6.2h-6.3zM585.3 447l3.1 6.2h-6.3zM589.6 447l3.1 6.2h-6.3zM567.1 455.6l3.1 6.2h-6.3zM571.7 455.6l3.1 6.2h-6.3zM576 455.6l3.1 6.2h-6.3zM580.3 455.6l3.1 6.2h-6.3zM584.6 455.6l3.1 6.2h-6.3z" fill="none" stroke="#1b1b1b" stroke-width="1.4" stroke-linejoin="miter"/>
<path d="M282.1 97.5l6.2 6.2M288.3 97.5l-6.2 6.2M315.1 69.6l6.2 6.2M321.3 69.6l-6.2 6.2M423.7 63.4l6.2 6.2M429.9 63.4l-6.2 6.2M425.7 80.3l6.2 6.2M431.9 80.3l-6.2 6.2M429.5 97.5l6.2 6.2M435.7 97.5l-6.2 6.2M286.6 326.3l6.2 6.2M292.8 326.3l-6.2 6.2M281.2 336.7l6.2 6.2M287.4 336.7l-6.2 6.2" fill="none" stroke="#3c3c3c" stroke-width="1.1"/>
<g fill="#9d9d9d" stroke="#383838" stroke-width="1.6"><circle cx="155.2" cy="57.6" r="3.2"/><circle cx="244.4" cy="78.9" r="3.2"/><circle cx="292" cy="91.6" r="3.2"/><circle cx="275.6" cy="117.4" r="3.2"/><circle cx="294.9" cy="128.7" r="3.2"/><circle cx="333.1" cy="73.2" r="3.2"/><circle cx="326.2" cy="88.8" r="3.2"/><circle cx="372.7" cy="74.8" r="3.2"/><circle cx="371.2" cy="83.2" r="3.2"/><circle cx="368.6" cy="90.9" r="3.2"/><circle cx="360" cy="96.2" r="3.2"/><circle cx="401.9" cy="43" r="3.2"/><circle cx="459.6" cy="57.6" r="3.2"/><circle cx="464.8" cy="91.7" r="3.2"/><circle cx="415.9" cy="108.8" r="3.2"/><circle cx="396" cy="117.4" r="3.2"/><circle cx="404.5" cy="121.1" r="3.2"/><circle cx="390.5" cy="126.1" r="3.2"/><circle cx="127.8" cy="144" r="3.2"/><circle cx="127.4" cy="156.5" r="3.2"/><circle cx="135.9" cy="160.7" r="3.2"/><circle cx="126.4" cy="166.8" r="3.2"/><circle cx="276.9" cy="202.7" r="3.2"/><circle cx="305.7" cy="219.4" r="3.2"/><circle cx="308.1" cy="171.5" r="3.2"/><circle cx="321.4" cy="174.1" r="3.2"/><circle cx="375.6" cy="145.6" r="3.2"/><circle cx="369.1" cy="152" r="3.2"/><circle cx="365.3" cy="157.2" r="3.2"/><circle cx="374.1" cy="157.2" r="3.2"/><circle cx="364.1" cy="165.4" r="3.2"/><circle cx="362.7" cy="171.5" r="3.2"/><circle cx="405.8" cy="141.3" r="3.2"/><circle cx="370.4" cy="188" r="3.2"/><circle cx="400.5" cy="188" r="3.2"/><circle cx="386.2" cy="202.3" r="3.2"/><circle cx="387.9" cy="210.1" r="3.2"/><circle cx="389.9" cy="217.5" r="3.2"/><circle cx="399.2" cy="219.5" r="3.2"/><circle cx="403.9" cy="228.4" r="3.2"/><circle cx="354.2" cy="210.4" r="3.2"/><circle cx="352.4" cy="213.1" r="3.2"/><circle cx="371.5" cy="233.5" r="3.2"/><circle cx="379.1" cy="235" r="3.2"/><circle cx="387.3" cy="236.4" r="3.2"/><circle cx="362.4" cy="237.7" r="3.2"/><circle cx="462.4" cy="142.5" r="3.2"/><circle cx="466.6" cy="142.5" r="3.2"/><circle cx="474" cy="199.9" r="3.2"/><circle cx="361.5" cy="244.3" r="3.2"/><circle cx="368.4" cy="245.7" r="3.2"/><circle cx="371.4" cy="245" r="3.2"/><circle cx="400.3" cy="253.8" r="3.2"/><circle cx="432.5" cy="250.4" r="3.2"/><circle cx="432.1" cy="256.6" r="3.2"/><circle cx="456" cy="259.4" r="3.2"/><circle cx="367.8" cy="259.8" r="3.2"/><circle cx="374.3" cy="256.9" r="3.2"/><circle cx="380.4" cy="259.7" r="3.2"/><circle cx="378.5" cy="266.1" r="3.2"/><circle cx="368.2" cy="265.9" r="3.2"/><circle cx="358.5" cy="268.2" r="3.2"/><circle cx="368.6" cy="269.3" r="3.2"/><circle cx="362.8" cy="272.9" r="3.2"/><circle cx="372.9" cy="273.2" r="3.2"/><circle cx="410.6" cy="279.4" r="3.2"/><circle cx="391.1" cy="285.9" r="3.2"/><circle cx="378.1" cy="296.4" r="3.2"/><circle cx="411.9" cy="296.5" r="3.2"/><circle cx="368.2" cy="298.7" r="3.2"/><circle cx="358.5" cy="301.2" r="3.2"/><circle cx="370.1" cy="303.8" r="3.2"/><circle cx="364.3" cy="306.1" r="3.2"/><circle cx="372.9" cy="310.5" r="3.2"/><circle cx="420.5" cy="304.8" r="3.2"/><circle cx="351.4" cy="310.2" r="3.2"/><circle cx="353.8" cy="311.8" r="3.2"/><circle cx="339.4" cy="313.1" r="3.2"/><circle cx="341.4" cy="319.6" r="3.2"/><circle cx="359.8" cy="318.6" r="3.2"/><circle cx="356.6" cy="321.2" r="3.2"/><circle cx="437.4" cy="319.9" r="3.2"/><circle cx="453.1" cy="321.2" r="3.2"/><circle cx="406.1" cy="321.2" r="3.2"/><circle cx="476.2" cy="289" r="3.2"/><circle cx="363.1" cy="323.2" r="3.2"/><circle cx="357.3" cy="326.2" r="3.2"/><circle cx="366.3" cy="325.4" r="3.2"/><circle cx="363.8" cy="329.6" r="3.2"/><circle cx="368.9" cy="331.8" r="3.2"/><circle cx="354.1" cy="336.5" r="3.2"/><circle cx="368.9" cy="338" r="3.2"/><circle cx="377.3" cy="348.3" r="3.2"/><circle cx="363.1" cy="351.3" r="3.2"/><circle cx="350.3" cy="358.6" r="3.2"/><circle cx="359.9" cy="356.7" r="3.2"/><circle cx="370.2" cy="357.3" r="3.2"/><circle cx="365" cy="360.9" r="3.2"/><circle cx="337" cy="369.6" r="3.2"/><circle cx="353.7" cy="372.3" r="3.2"/><circle cx="365.7" cy="369.5" r="3.2"/><circle cx="362.5" cy="372.7" r="3.2"/><circle cx="359.9" cy="377.9" r="3.2"/><circle cx="366.3" cy="379.2" r="3.2"/><circle cx="356" cy="381.7" r="3.2"/><circle cx="362.5" cy="381.7" r="3.2"/><circle cx="378.6" cy="381.5" r="3.2"/><circle cx="363.8" cy="386.2" r="3.2"/><circle cx="370.2" cy="385.6" r="3.2"/><circle cx="361.2" cy="391.4" r="3.2"/><circle cx="365" cy="390.1" r="3.2"/><circle cx="375.3" cy="389.5" r="3.2"/><circle cx="362.5" cy="403.6" r="3.2"/><circle cx="372.1" cy="399.1" r="3.2"/><circle cx="379.2" cy="401" r="3.2"/><circle cx="369.5" cy="407.5" r="3.2"/><circle cx="149.4" cy="458.5" r="3.2"/><circle cx="206.9" cy="432.6" r="3.2"/><circle cx="267.1" cy="434.3" r="3.2"/><circle cx="428.6" cy="329.6" r="3.2"/><circle cx="413.8" cy="345.1" r="3.2"/><circle cx="442.1" cy="338.6" r="3.2"/><circle cx="442.8" cy="343.8" r="3.2"/><circle cx="408.7" cy="357.6" r="3.2"/><circle cx="446" cy="364.4" r="3.2"/><circle cx="395.2" cy="375" r="3.2"/><circle cx="419.6" cy="374.7" r="3.2"/><circle cx="426" cy="375.6" r="3.2"/><circle cx="441.5" cy="372.7" r="3.2"/><circle cx="407.4" cy="381.5" r="3.2"/><circle cx="455.6" cy="381.5" r="3.2"/><circle cx="406.1" cy="390.1" r="3.2"/><circle cx="428.6" cy="390.1" r="3.2"/><circle cx="440.2" cy="390.1" r="3.2"/><circle cx="455.6" cy="390.7" r="3.2"/><circle cx="437" cy="398.5" r="3.2"/><circle cx="451.1" cy="401" r="3.2"/><circle cx="458.2" cy="398.5" r="3.2"/><circle cx="436.3" cy="404.9" r="3.2"/><circle cx="446.6" cy="406.2" r="3.2"/><circle cx="402.9" cy="405.5" r="3.2"/><circle cx="369.8" cy="409.8" r="3.2"/><circle cx="366.4" cy="414.5" r="3.2"/><circle cx="376.2" cy="415.4" r="3.2"/><circle cx="381.1" cy="415.4" r="3.2"/><circle cx="388.2" cy="415.4" r="3.2"/><circle cx="400.2" cy="409.2" r="3.2"/><circle cx="400.8" cy="415.4" r="3.2"/><circle cx="382.1" cy="424.2" r="3.2"/><circle cx="394.6" cy="424.2" r="3.2"/><circle cx="393.4" cy="428.3" r="3.2"/><circle cx="386" cy="432.6" r="3.2"/><circle cx="396.2" cy="432.9" r="3.2"/><circle cx="388.5" cy="441.2" r="3.2"/><circle cx="391.6" cy="441.2" r="3.2"/><circle cx="411.2" cy="444.9" r="3.2"/><circle cx="408.1" cy="449.8" r="3.2"/><circle cx="395.6" cy="458.4" r="3.2"/><circle cx="412.4" cy="458.4" r="3.2"/><circle cx="419.8" cy="441.4" r="3.2"/><circle cx="438.9" cy="407.4" r="3.2"/><circle cx="433.3" cy="415.6" r="3.2"/><circle cx="449.9" cy="416.6" r="3.2"/><circle cx="421.7" cy="420.3" r="3.2"/><circle cx="421.7" cy="424.6" r="3.2"/><circle cx="437.6" cy="449.8" r="3.2"/><circle cx="444.4" cy="449.8" r="3.2"/><circle cx="456.7" cy="441.8" r="3.2"/><circle cx="446.9" cy="458.4" r="3.2"/><circle cx="429" cy="455.3" r="3.2"/><circle cx="483.9" cy="432.6" r="3.2"/><circle cx="464.6" cy="458.4" r="3.2"/></g>
<g fill="#d53a2a" stroke="#4a201a" stroke-width="1.2"><rect x="385.7" y="187.6" width="8.6" height="8.6"/><rect x="392.2" y="198.2" width="8.6" height="8.6"/><rect x="406.7" y="241" width="8.6" height="8.6"/><rect x="409.5" y="258" width="8.6" height="8.6"/><rect x="417.2" y="258" width="8.6" height="8.6"/><rect x="438.9" y="275.1" width="8.6" height="8.6"/><rect x="410.2" y="311.7" width="8.6" height="8.6"/><rect x="371.6" y="316.2" width="8.6" height="8.6"/><rect x="395.4" y="316.2" width="8.6" height="8.6"/><rect x="366.2" y="343.4" width="8.6" height="8.6"/><rect x="383.9" y="363.9" width="8.6" height="8.6"/><rect x="384.5" y="372.3" width="8.6" height="8.6"/><rect x="380" y="382.6" width="8.6" height="8.6"/><rect x="425" y="331.8" width="8.6" height="8.6"/><rect x="424.3" y="340.1" width="8.6" height="8.6"/><rect x="393.4" y="348.9" width="8.6" height="8.6"/><rect x="393.2" y="353" width="8.6" height="8.6"/><rect x="405" y="347.2" width="8.6" height="8.6"/><rect x="405" y="367.8" width="8.6" height="8.6"/><rect x="391.5" y="382.6" width="8.6" height="8.6"/><rect x="443" y="386.4" width="8.6" height="8.6"/><rect x="425" y="394.8" width="8.6" height="8.6"/><rect x="425.6" y="401.9" width="8.6" height="8.6"/><rect x="410.2" y="315.7" width="8.6" height="8.6"/><rect x="424.7" y="419.7" width="8.6" height="8.6"/><rect x="383.6" y="419.7" width="8.6" height="8.6"/><rect x="398.3" y="416" width="8.6" height="8.6"/><rect x="400.8" y="437.5" width="8.6" height="8.6"/><rect x="381.7" y="409.8" width="8.6" height="8.6"/></g>
<path d="M407.4 348.8l3.1 6.2h-6.3zM411.9 349.4l3.1 6.2h-6.3zM390 374.5l3.1 6.2h-6.3zM396.5 384.8l3.1 6.2h-6.3zM444.1 276.6l3.1 6.2h-6.3z" fill="none" stroke="#1b1b1b" stroke-width="1.4" stroke-linejoin="miter"/>
<g fill="#9d9d9d" stroke="#383838" stroke-width="1.6"></g>
<g fill="#3364a9" stroke="#1e3a68" stroke-width="1.4"><circle cx="338.2" cy="249.4" r="4.2"/><circle cx="387.5" cy="264.6" r="4.2"/><circle cx="392.6" cy="319.2" r="4.2"/><circle cx="372.1" cy="394.6" r="4.2"/><circle cx="388.8" cy="394" r="4.2"/><circle cx="383.7" cy="404.2" r="4.2"/><circle cx="282.8" cy="413.3" r="4.2"/><circle cx="392.6" cy="404.9" r="4.2"/><circle cx="322.1" cy="449.8" r="4.2"/></g>
<g fill="#f9b22a" stroke="#5f4010" stroke-width="1.7"><circle cx="355.1" cy="238" r="4.0"/><circle cx="265.1" cy="250.6" r="4.0"/><circle cx="296.2" cy="297.9" r="4.0"/><circle cx="307.4" cy="292.9" r="4.0"/><circle cx="263.1" cy="315.1" r="4.0"/><circle cx="301.5" cy="315.1" r="4.0"/><circle cx="374.9" cy="280" r="4.0"/><circle cx="291.5" cy="347.7" r="4.0"/><circle cx="308.5" cy="356.9" r="4.0"/><circle cx="315.8" cy="362.7" r="4.0"/><circle cx="336.5" cy="328" r="4.0"/><circle cx="326.5" cy="335.4" r="4.0"/><circle cx="327.4" cy="339.5" r="4.0"/><circle cx="354.5" cy="355" r="4.0"/><circle cx="308.6" cy="437.9" r="4.0"/></g>
<g fill="#9d9d9d" stroke="#2a2a2a" stroke-width="1.8"></g>
<path d="M415.8 189.1l5 5l-5 5l-5 -5zM402.4 274.4l5 5l-5 5l-5 -5zM400.7 333.9l5 5l-5 5l-5 -5zM414.5 333.9l5 5l-5 5l-5 -5zM403.5 367.7l5 5l-5 5l-5 -5zM412.5 385.1l5 5l-5 5l-5 -5zM363.7 419.2l5 5l-5 5l-5 -5zM395 410.6l5 5l-5 5l-5 -5zM414.5 427.6l5 5l-5 5l-5 -5zM434.6 453.4l5 5l-5 5l-5 -5zM454.2 453.4l5 5l-5 5l-5 -5zM483.5 436.4l5 5l-5 5l-5 -5zM468.8 444.8l5 5l-5 5l-5 -5z" fill="#f8b32a" stroke="#4f3810" stroke-width="1.4"/>
<path d="M297.9 392.5l6 6l-6 6l-6 -6z" fill="#2f9d4b" stroke="#2a3a2a" stroke-width="1.3"/></g>
<g><path d="M983.9 306l3.1 6.2h-6.3zM944.6 314l3.1 6.2h-6.3zM975.8 310.8l3.1 6.2h-6.3zM944.8 294.3l3.1 6.2h-6.3zM941.5 296.8l3.1 6.2h-6.3zM968.5 290.7l3.1 6.2h-6.3zM967.2 282.6l3.1 6.2h-6.3zM959.4 310.5l3.1 6.2h-6.3zM959 304.5l3.1 6.2h-6.3zM974.8 333.4l3.1 6.2h-6.3zM978.4 298.7l3.1 6.2h-6.3zM968.3 300.4l3.1 6.2h-6.3zM975.2 302.1l3.1 6.2h-6.3zM960.5 298.4l3.1 6.2h-6.3zM970.4 315l3.1 6.2h-6.3zM957.5 318.3l3.1 6.2h-6.3zM941.7 289.7l3.1 6.2h-6.3zM982.3 291.4l3.1 6.2h-6.3zM965.9 308.1l3.1 6.2h-6.3zM977.3 302.1l3.1 6.2h-6.3zM982.7 318.1l3.1 6.2h-6.3zM945.5 319.5l3.1 6.2h-6.3zM956 284.6l3.1 6.2h-6.3zM958.8 308.4l3.1 6.2h-6.3zM955.8 299.3l3.1 6.2h-6.3zM982.3 295.9l3.1 6.2h-6.3zM976.1 316.7l3.1 6.2h-6.3zM976.4 304.1l3.1 6.2h-6.3zM965.3 308l3.1 6.2h-6.3zM976.8 351.7l3.1 6.2h-6.3zM961.1 314.2l3.1 6.2h-6.3zM956 319.6l3.1 6.2h-6.3zM952 289.5l3.1 6.2h-6.3zM940.1 304.1l3.1 6.2h-6.3zM952.7 297.2l3.1 6.2h-6.3zM968.7 298.5l3.1 6.2h-6.3zM981.8 310.4l3.1 6.2h-6.3zM980.8 301.8l3.1 6.2h-6.3zM995.8 290.7l3.1 6.2h-6.3zM1058.3 322.5l3.1 6.2h-6.3zM992.8 320.2l3.1 6.2h-6.3zM1011.7 339l3.1 6.2h-6.3zM1046 342.9l3.1 6.2h-6.3zM1036.5 366.3l3.1 6.2h-6.3zM1045.7 329.8l3.1 6.2h-6.3zM1042.1 346.7l3.1 6.2h-6.3zM1027.7 320.9l3.1 6.2h-6.3zM989.5 294.8l3.1 6.2h-6.3zM1022.8 294.7l3.1 6.2h-6.3zM985.5 307.8l3.1 6.2h-6.3zM1021 291.8l3.1 6.2h-6.3zM1013.9 342.5l3.1 6.2h-6.3zM990.8 315l3.1 6.2h-6.3zM1037.6 303l3.1 6.2h-6.3zM1010.4 338.3l3.1 6.2h-6.3zM987.6 306l3.1 6.2h-6.3zM1033.1 321.6l3.1 6.2h-6.3zM1025.5 359.9l3.1 6.2h-6.3zM1001.2 331.7l3.1 6.2h-6.3zM1007.6 326l3.1 6.2h-6.3zM1016.1 343.8l3.1 6.2h-6.3zM1035.4 323.3l3.1 6.2h-6.3zM1010.5 324.3l3.1 6.2h-6.3zM1045.4 339.7l3.1 6.2h-6.3zM1053.2 309.2l3.1 6.2h-6.3zM999.6 312l3.1 6.2h-6.3zM1031.9 302.6l3.1 6.2h-6.3zM1032.1 329.1l3.1 6.2h-6.3zM1038.6 333.9l3.1 6.2h-6.3zM1020.3 301.9l3.1 6.2h-6.3zM992.8 313.1l3.1 6.2h-6.3zM1055.4 326.5l3.1 6.2h-6.3zM1048.3 320.3l3.1 6.2h-6.3zM1017.5 315.5l3.1 6.2h-6.3zM1034.4 301.8l3.1 6.2h-6.3zM994.2 308.8l3.1 6.2h-6.3zM1029.3 316.3l3.1 6.2h-6.3zM1030.6 311.1l3.1 6.2h-6.3zM1060.5 341.9l3.1 6.2h-6.3zM1001.3 292.2l3.1 6.2h-6.3zM985.4 304l3.1 6.2h-6.3zM991.8 301.8l3.1 6.2h-6.3zM994.9 323.2l3.1 6.2h-6.3zM999.4 327.8l3.1 6.2h-6.3zM1039.9 332.5l3.1 6.2h-6.3zM1039.6 348.4l3.1 6.2h-6.3zM1004.6 292.9l3.1 6.2h-6.3zM1035.1 316.5l3.1 6.2h-6.3zM991.1 327.1l3.1 6.2h-6.3zM1022.4 313.7l3.1 6.2h-6.3zM1029.3 337.5l3.1 6.2h-6.3zM1013 324.6l3.1 6.2h-6.3zM1017.2 291.8l3.1 6.2h-6.3zM1045.4 318.6l3.1 6.2h-6.3zM989.7 340.3l3.1 6.2h-6.3zM1010.6 342.6l3.1 6.2h-6.3zM1049 349.7l3.1 6.2h-6.3zM1014 323.4l3.1 6.2h-6.3zM1054 321.1l3.1 6.2h-6.3zM1017.5 335.7l3.1 6.2h-6.3zM1053.3 372.1l3.1 6.2h-6.3zM1051.8 320.6l3.1 6.2h-6.3zM1050.5 342.2l3.1 6.2h-6.3zM1011.7 320.2l3.1 6.2h-6.3zM1046.4 340l3.1 6.2h-6.3zM1003 324.8l3.1 6.2h-6.3zM1020.8 324.3l3.1 6.2h-6.3zM1046 309.5l3.1 6.2h-6.3zM1047.1 349.4l3.1 6.2h-6.3zM1053.2 330.4l3.1 6.2h-6.3zM1030.4 332.6l3.1 6.2h-6.3zM1012.9 313.1l3.1 6.2h-6.3zM1024.8 324.7l3.1 6.2h-6.3zM1013.8 325l3.1 6.2h-6.3zM1045.6 329.2l3.1 6.2h-6.3zM986.6 330l3.1 6.2h-6.3zM1051.7 345.2l3.1 6.2h-6.3zM1017.8 321.4l3.1 6.2h-6.3zM1044.1 306.3l3.1 6.2h-6.3zM1000.5 295.1l3.1 6.2h-6.3zM988.9 329.6l3.1 6.2h-6.3zM1055.1 337.3l3.1 6.2h-6.3zM1015.6 321.7l3.1 6.2h-6.3zM1034.3 363.2l3.1 6.2h-6.3zM1036.6 348.9l3.1 6.2h-6.3zM1061.4 314.6l3.1 6.2h-6.3zM1004.7 289.4l3.1 6.2h-6.3zM1049.5 344.6l3.1 6.2h-6.3zM1039.6 309.1l3.1 6.2h-6.3zM1043.1 281l3.1 6.2h-6.3zM1037.1 316.3l3.1 6.2h-6.3zM993.1 300.6l3.1 6.2h-6.3zM994.6 296.1l3.1 6.2h-6.3zM1037.2 336l3.1 6.2h-6.3zM1000 336.5l3.1 6.2h-6.3zM1051.7 342.3l3.1 6.2h-6.3zM995.8 304l3.1 6.2h-6.3zM1049.9 327.8l3.1 6.2h-6.3zM1011.2 300.5l3.1 6.2h-6.3zM1002.1 326.2l3.1 6.2h-6.3zM1027.6 317.1l3.1 6.2h-6.3zM997 329.7l3.1 6.2h-6.3zM1010.8 338.7l3.1 6.2h-6.3zM993.8 332.5l3.1 6.2h-6.3zM989.4 308.3l3.1 6.2h-6.3zM1007 302.2l3.1 6.2h-6.3zM1013 399.6l3.1 6.2h-6.3zM992.5 329.6l3.1 6.2h-6.3zM989.4 307.1l3.1 6.2h-6.3zM986.2 293.8l3.1 6.2h-6.3zM1011.2 318.2l3.1 6.2h-6.3zM1025.5 317.7l3.1 6.2h-6.3zM1055.2 318l3.1 6.2h-6.3zM1044.3 356.5l3.1 6.2h-6.3zM1000.1 313.8l3.1 6.2h-6.3zM1006.1 322l3.1 6.2h-6.3zM1039.5 305.4l3.1 6.2h-6.3zM1041.4 338l3.1 6.2h-6.3zM989.3 315.9l3.1 6.2h-6.3zM1051.6 308.9l3.1 6.2h-6.3zM1055.1 318.2l3.1 6.2h-6.3zM1049 314.4l3.1 6.2h-6.3zM1013.6 315.3l3.1 6.2h-6.3zM1024.7 332l3.1 6.2h-6.3zM1047.9 342.3l3.1 6.2h-6.3zM1014.4 304.6l3.1 6.2h-6.3zM989.7 310l3.1 6.2h-6.3zM1025.8 298.3l3.1 6.2h-6.3zM1059.5 323.1l3.1 6.2h-6.3zM1047.9 310.8l3.1 6.2h-6.3zM1038.8 329.2l3.1 6.2h-6.3zM1025.3 324.7l3.1 6.2h-6.3zM992.9 294.8l3.1 6.2h-6.3zM1023 309.7l3.1 6.2h-6.3zM994.4 329.1l3.1 6.2h-6.3zM996.3 324.6l3.1 6.2h-6.3zM997.7 309.3l3.1 6.2h-6.3zM1049.7 325.2l3.1 6.2h-6.3zM1057.5 325.9l3.1 6.2h-6.3zM1018.5 300.8l3.1 6.2h-6.3zM1046.9 364l3.1 6.2h-6.3zM989.1 330.3l3.1 6.2h-6.3zM1056.9 327l3.1 6.2h-6.3zM1025.9 317.6l3.1 6.2h-6.3zM1023.9 332.9l3.1 6.2h-6.3zM1044.8 329.4l3.1 6.2h-6.3zM1033.8 340.5l3.1 6.2h-6.3zM987.6 299.1l3.1 6.2h-6.3zM1037.2 320.8l3.1 6.2h-6.3zM1032.8 323.7l3.1 6.2h-6.3zM1018.4 326.9l3.1 6.2h-6.3zM994.3 333.7l3.1 6.2h-6.3zM1024.6 304l3.1 6.2h-6.3zM994.5 302.6l3.1 6.2h-6.3zM1016.3 320.9l3.1 6.2h-6.3zM1049.7 333.5l3.1 6.2h-6.3zM1035.1 326.1l3.1 6.2h-6.3zM1032.2 313.4l3.1 6.2h-6.3zM1003.7 320l3.1 6.2h-6.3zM985.9 323.8l3.1 6.2h-6.3zM1003.4 341.4l3.1 6.2h-6.3zM1007.8 308.2l3.1 6.2h-6.3zM997.2 293.3l3.1 6.2h-6.3zM1014.9 330.7l3.1 6.2h-6.3zM993.4 319.3l3.1 6.2h-6.3zM996.9 306l3.1 6.2h-6.3zM1037 295.2l3.1 6.2h-6.3zM1024.9 294.1l3.1 6.2h-6.3zM1042.2 328.3l3.1 6.2h-6.3zM1039.6 302.8l3.1 6.2h-6.3zM994.8 313l3.1 6.2h-6.3zM1030.1 346.6l3.1 6.2h-6.3zM1029 290.6l3.1 6.2h-6.3zM1031.8 320l3.1 6.2h-6.3zM1020.3 322.4l3.1 6.2h-6.3zM1014.6 333.4l3.1 6.2h-6.3zM1050.4 321.4l3.1 6.2h-6.3zM996.2 316.3l3.1 6.2h-6.3zM991.8 326.3l3.1 6.2h-6.3zM1049.5 321.5l3.1 6.2h-6.3zM1000.7 293.5l3.1 6.2h-6.3zM1028.5 343.9l3.1 6.2h-6.3zM1044.6 328.6l3.1 6.2h-6.3zM1037.8 318.1l3.1 6.2h-6.3zM1030.8 323.3l3.1 6.2h-6.3zM992.6 306.5l3.1 6.2h-6.3zM1028.2 283.9l3.1 6.2h-6.3zM1022.5 326.6l3.1 6.2h-6.3zM1061.7 322.1l3.1 6.2h-6.3zM998.1 337.5l3.1 6.2h-6.3zM1048.6 320l3.1 6.2h-6.3zM1038.1 324.1l3.1 6.2h-6.3zM1061.2 325.6l3.1 6.2h-6.3zM1024.4 305.8l3.1 6.2h-6.3zM999 338.9l3.1 6.2h-6.3zM1034 319l3.1 6.2h-6.3zM1045.6 319.2l3.1 6.2h-6.3zM1049.8 338.7l3.1 6.2h-6.3zM1000.1 321.6l3.1 6.2h-6.3zM1025.9 321.2l3.1 6.2h-6.3zM1029.2 335.5l3.1 6.2h-6.3zM993.2 296.9l3.1 6.2h-6.3zM1025.2 334.8l3.1 6.2h-6.3zM989.8 322l3.1 6.2h-6.3zM1009.9 306l3.1 6.2h-6.3zM992.7 294l3.1 6.2h-6.3zM1029.8 300.8l3.1 6.2h-6.3zM1053.6 355.2l3.1 6.2h-6.3zM1018.9 342.1l3.1 6.2h-6.3zM1050.8 351l3.1 6.2h-6.3zM1047.8 320.3l3.1 6.2h-6.3zM1023.2 349.9l3.1 6.2h-6.3zM1003.7 306.5l3.1 6.2h-6.3zM1052.4 346.1l3.1 6.2h-6.3zM1003.7 340.7l3.1 6.2h-6.3zM1007.4 298.2l3.1 6.2h-6.3zM1026.1 303.2l3.1 6.2h-6.3zM1048.6 317.9l3.1 6.2h-6.3zM999.7 322.3l3.1 6.2h-6.3zM1011.3 328.3l3.1 6.2h-6.3zM992.1 308l3.1 6.2h-6.3zM1049.4 372l3.1 6.2h-6.3zM997.3 335.9l3.1 6.2h-6.3zM1001 343.4l3.1 6.2h-6.3zM1023.9 331.3l3.1 6.2h-6.3zM1005.1 341l3.1 6.2h-6.3zM1030.2 308.3l3.1 6.2h-6.3zM1052.2 331.7l3.1 6.2h-6.3zM1026.8 329.4l3.1 6.2h-6.3zM1028.7 316.3l3.1 6.2h-6.3zM991.6 317.9l3.1 6.2h-6.3zM993.4 305.1l3.1 6.2h-6.3zM1023.5 307.4l3.1 6.2h-6.3zM994.7 319.1l3.1 6.2h-6.3zM1006.7 279.6l3.1 6.2h-6.3zM1053 359.1l3.1 6.2h-6.3zM995.2 319.9l3.1 6.2h-6.3zM1012.1 326l3.1 6.2h-6.3zM1038.8 332l3.1 6.2h-6.3zM999 334.7l3.1 6.2h-6.3zM1041.5 310.8l3.1 6.2h-6.3zM1000.3 308.6l3.1 6.2h-6.3zM988 324.1l3.1 6.2h-6.3zM1028.9 352.2l3.1 6.2h-6.3zM1004.6 292.2l3.1 6.2h-6.3zM1049.2 343.3l3.1 6.2h-6.3zM1007 295l3.1 6.2h-6.3zM1003.8 331.1l3.1 6.2h-6.3zM1001.2 324.7l3.1 6.2h-6.3zM1015.3 300.9l3.1 6.2h-6.3zM1048.8 327.9l3.1 6.2h-6.3zM1017.6 328.7l3.1 6.2h-6.3zM1038.3 322.8l3.1 6.2h-6.3zM989.2 306.2l3.1 6.2h-6.3zM1024.4 331.3l3.1 6.2h-6.3zM988.4 304.8l3.1 6.2h-6.3zM1047 327l3.1 6.2h-6.3zM1034.1 311.5l3.1 6.2h-6.3zM989.6 301.6l3.1 6.2h-6.3zM995.5 329.2l3.1 6.2h-6.3zM1036.6 321.7l3.1 6.2h-6.3zM1057.1 324.2l3.1 6.2h-6.3zM1053.1 347.6l3.1 6.2h-6.3zM1027.2 344.3l3.1 6.2h-6.3zM998 326.6l3.1 6.2h-6.3zM1049 320.1l3.1 6.2h-6.3zM1012.8 303.4l3.1 6.2h-6.3zM1039 307.4l3.1 6.2h-6.3zM1010 296.8l3.1 6.2h-6.3zM985.8 311.2l3.1 6.2h-6.3zM1042.8 358.1l3.1 6.2h-6.3zM1028.4 320.9l3.1 6.2h-6.3zM1018.4 341.4l3.1 6.2h-6.3zM1034.6 346.6l3.1 6.2h-6.3zM1035.3 301.6l3.1 6.2h-6.3zM1044.6 344.7l3.1 6.2h-6.3zM1007.8 329.4l3.1 6.2h-6.3zM1056.4 347.3l3.1 6.2h-6.3zM1048.9 346.4l3.1 6.2h-6.3zM1009.7 319.6l3.1 6.2h-6.3zM1013.4 321.3l3.1 6.2h-6.3zM1033.4 309.8l3.1 6.2h-6.3zM1039.3 325.4l3.1 6.2h-6.3zM1068 342.7l3.1 6.2h-6.3zM1065 360.4l3.1 6.2h-6.3zM1065.4 334.6l3.1 6.2h-6.3zM1069.3 339.3l3.1 6.2h-6.3zM1094.5 353.8l3.1 6.2h-6.3zM1078.2 341.5l3.1 6.2h-6.3zM1074.9 350.7l3.1 6.2h-6.3zM1093.4 352l3.1 6.2h-6.3zM1083.4 335.6l3.1 6.2h-6.3zM1065.2 327.8l3.1 6.2h-6.3zM1096.5 374.9l3.1 6.2h-6.3zM1099 382.9l3.1 6.2h-6.3zM1064.3 342l3.1 6.2h-6.3zM1073.3 348.9l3.1 6.2h-6.3zM1073.4 360.4l3.1 6.2h-6.3zM1063.1 317.6l3.1 6.2h-6.3zM1087.1 353.6l3.1 6.2h-6.3zM1077.8 328.7l3.1 6.2h-6.3zM1068.9 334.8l3.1 6.2h-6.3zM1082.8 331.2l3.1 6.2h-6.3zM1082.2 346.6l3.1 6.2h-6.3zM1083.1 348.2l3.1 6.2h-6.3zM1084.4 344.7l3.1 6.2h-6.3zM1064.8 347.6l3.1 6.2h-6.3zM1090.8 373.8l3.1 6.2h-6.3zM1089.4 338.5l3.1 6.2h-6.3zM1098.5 369.6l3.1 6.2h-6.3zM1067.2 332.8l3.1 6.2h-6.3zM1062.6 323l3.1 6.2h-6.3zM1073.4 336.9l3.1 6.2h-6.3zM1085.6 331.6l3.1 6.2h-6.3zM1083.4 359l3.1 6.2h-6.3zM1075 324.7l3.1 6.2h-6.3zM1087.9 361l3.1 6.2h-6.3zM1098 350.6l3.1 6.2h-6.3zM1063.7 351.4l3.1 6.2h-6.3zM1066.3 332.5l3.1 6.2h-6.3zM1087.7 365.4l3.1 6.2h-6.3zM1084.1 329.1l3.1 6.2h-6.3zM1066.2 328.6l3.1 6.2h-6.3zM1088.1 336.6l3.1 6.2h-6.3zM1095.3 331.6l3.1 6.2h-6.3zM1098.1 352.1l3.1 6.2h-6.3zM1067.7 300.7l3.1 6.2h-6.3zM1063.3 352l3.1 6.2h-6.3zM1087.8 365.8l3.1 6.2h-6.3zM1076.9 358.5l3.1 6.2h-6.3zM1085.2 366.7l3.1 6.2h-6.3zM1084.4 335.2l3.1 6.2h-6.3zM1075.7 337.2l3.1 6.2h-6.3zM1062.2 328.1l3.1 6.2h-6.3zM1062.8 320.1l3.1 6.2h-6.3zM1087.5 341.3l3.1 6.2h-6.3zM1081 367.5l3.1 6.2h-6.3zM1099.7 361.7l3.1 6.2h-6.3zM1091.3 358.4l3.1 6.2h-6.3zM1075.8 357.3l3.1 6.2h-6.3zM1095.2 366.8l3.1 6.2h-6.3zM1090.1 357.7l3.1 6.2h-6.3zM1075.3 336.3l3.1 6.2h-6.3zM1074.3 336.7l3.1 6.2h-6.3zM1080.3 339.8l3.1 6.2h-6.3zM1067.2 356.6l3.1 6.2h-6.3zM1079.2 331.8l3.1 6.2h-6.3zM1064.5 328.4l3.1 6.2h-6.3zM1089.6 370.1l3.1 6.2h-6.3zM1084.2 335.4l3.1 6.2h-6.3zM1084.1 366.7l3.1 6.2h-6.3zM1078.3 343.5l3.1 6.2h-6.3zM1064.6 326.2l3.1 6.2h-6.3zM1062.9 325.6l3.1 6.2h-6.3zM1088.8 355.5l3.1 6.2h-6.3zM1094.8 343.9l3.1 6.2h-6.3zM1089.9 365.3l3.1 6.2h-6.3zM1095.3 342l3.1 6.2h-6.3zM1069.2 360.1l3.1 6.2h-6.3zM1070.1 352.1l3.1 6.2h-6.3zM1086.7 332.2l3.1 6.2h-6.3zM1077.7 350.4l3.1 6.2h-6.3zM1074.7 341.2l3.1 6.2h-6.3zM1062.5 336.6l3.1 6.2h-6.3zM1083.4 358.1l3.1 6.2h-6.3zM1074.5 328.2l3.1 6.2h-6.3zM1067.4 339.4l3.1 6.2h-6.3zM1078.1 348.8l3.1 6.2h-6.3zM1083.1 358.7l3.1 6.2h-6.3zM1071.8 320.2l3.1 6.2h-6.3zM1091 354.9l3.1 6.2h-6.3zM1099.1 350.7l3.1 6.2h-6.3zM1081.9 345.9l3.1 6.2h-6.3zM1086.9 346.6l3.1 6.2h-6.3zM1075.8 358.1l3.1 6.2h-6.3zM1065.4 321.3l3.1 6.2h-6.3zM1064.3 358.5l3.1 6.2h-6.3zM1075.9 330l3.1 6.2h-6.3zM1090 364l3.1 6.2h-6.3zM1071.2 335.5l3.1 6.2h-6.3zM1081 335.8l3.1 6.2h-6.3zM1079.5 364.3l3.1 6.2h-6.3zM1066.1 333.4l3.1 6.2h-6.3zM1094.8 358l3.1 6.2h-6.3zM1077.6 333l3.1 6.2h-6.3zM1071.6 338.1l3.1 6.2h-6.3zM1070.8 331.8l3.1 6.2h-6.3zM1099.8 362.1l3.1 6.2h-6.3zM1068 351.1l3.1 6.2h-6.3zM1093.3 347.6l3.1 6.2h-6.3zM1080.5 350.6l3.1 6.2h-6.3zM1079.2 363.2l3.1 6.2h-6.3zM1070 354.8l3.1 6.2h-6.3zM1094.8 370.9l3.1 6.2h-6.3zM1099.8 378.8l3.1 6.2h-6.3zM1062.4 340.1l3.1 6.2h-6.3zM1067.7 347.6l3.1 6.2h-6.3zM1065.4 358l3.1 6.2h-6.3zM1089.2 340.9l3.1 6.2h-6.3zM1092.1 335.4l3.1 6.2h-6.3zM1081.2 327l3.1 6.2h-6.3zM1129.7 395.4l3.1 6.2h-6.3zM1103.6 351l3.1 6.2h-6.3zM1120.6 383.9l3.1 6.2h-6.3zM1115 386.5l3.1 6.2h-6.3zM1110.5 385.4l3.1 6.2h-6.3zM1126.5 373.6l3.1 6.2h-6.3zM1102.1 361.4l3.1 6.2h-6.3zM1112.2 376.1l3.1 6.2h-6.3zM1119.6 376.6l3.1 6.2h-6.3zM1120.7 406.1l3.1 6.2h-6.3zM1112 366.2l3.1 6.2h-6.3zM1129.2 372.4l3.1 6.2h-6.3zM1130 386.7l3.1 6.2h-6.3zM1127.8 374l3.1 6.2h-6.3zM1106 377.6l3.1 6.2h-6.3zM1123.5 372.8l3.1 6.2h-6.3zM1119.4 369.1l3.1 6.2h-6.3zM1129.1 406.1l3.1 6.2h-6.3zM1115.3 389.4l3.1 6.2h-6.3zM1107 373.2l3.1 6.2h-6.3zM1111.8 373l3.1 6.2h-6.3zM1120.3 367.1l3.1 6.2h-6.3zM1118.4 388.3l3.1 6.2h-6.3zM1114.2 361.7l3.1 6.2h-6.3zM1104.3 344.7l3.1 6.2h-6.3zM1115.9 355.4l3.1 6.2h-6.3zM1107.2 377.6l3.1 6.2h-6.3zM1113.8 353.8l3.1 6.2h-6.3zM1126 376.6l3.1 6.2h-6.3zM1125 371.9l3.1 6.2h-6.3zM1103.1 374l3.1 6.2h-6.3zM1115.6 389.7l3.1 6.2h-6.3zM1120.9 375.3l3.1 6.2h-6.3zM1123.9 374.5l3.1 6.2h-6.3zM1115.6 367.7l3.1 6.2h-6.3zM1110.2 370.1l3.1 6.2h-6.3zM1101.7 369.6l3.1 6.2h-6.3zM1108.2 361l3.1 6.2h-6.3zM1102.7 376l3.1 6.2h-6.3zM1106.1 359.8l3.1 6.2h-6.3zM1101.3 355.7l3.1 6.2h-6.3zM1121.4 387l3.1 6.2h-6.3zM1110.6 370.7l3.1 6.2h-6.3zM1127.7 395.1l3.1 6.2h-6.3zM1111.2 362.6l3.1 6.2h-6.3zM1102.1 361l3.1 6.2h-6.3zM1127 368.6l3.1 6.2h-6.3zM1100.8 373.9l3.1 6.2h-6.3zM1112.4 383.7l3.1 6.2h-6.3zM1113.2 353.1l3.1 6.2h-6.3zM1120.1 376.3l3.1 6.2h-6.3zM1112.1 379l3.1 6.2h-6.3zM1123.1 369.4l3.1 6.2h-6.3zM1102.3 371.5l3.1 6.2h-6.3zM1116.9 379.3l3.1 6.2h-6.3zM1121.3 373.8l3.1 6.2h-6.3zM1117.5 373.8l3.1 6.2h-6.3zM1124.5 379.5l3.1 6.2h-6.3zM1100.2 353.2l3.1 6.2h-6.3zM1108.2 379.7l3.1 6.2h-6.3zM1116.7 370.1l3.1 6.2h-6.3zM1101.5 350.2l3.1 6.2h-6.3zM1147.1 394.9l3.1 6.2h-6.3zM1131 383.8l3.1 6.2h-6.3zM1141.7 403.9l3.1 6.2h-6.3zM1134 381.3l3.1 6.2h-6.3zM1140.7 395.9l3.1 6.2h-6.3zM1136.5 395.5l3.1 6.2h-6.3zM1146 399.4l3.1 6.2h-6.3zM1148.7 402.2l3.1 6.2h-6.3zM1142.8 406.8l3.1 6.2h-6.3zM1131.4 378.1l3.1 6.2h-6.3zM1141.2 390.8l3.1 6.2h-6.3zM1140 385.8l3.1 6.2h-6.3zM1146.8 412.5l3.1 6.2h-6.3zM1134.1 391.5l3.1 6.2h-6.3zM1149 408.1l3.1 6.2h-6.3zM1135.2 375.2l3.1 6.2h-6.3zM1143.9 407.3l3.1 6.2h-6.3zM1135.9 390.2l3.1 6.2h-6.3z" fill="none" stroke="#1b1b1b" stroke-width="1.4" stroke-linejoin="miter"/>
<path d="M871.8 202.6l3.1 6.2h-6.3zM1008.8 147.9l3.1 6.2h-6.3zM996.5 176.6l3.1 6.2h-6.3zM1028.1 181.7l3.1 6.2h-6.3zM944.8 213.5l3.1 6.2h-6.3zM952.8 215.4l3.1 6.2h-6.3zM1020 216.7l3.1 6.2h-6.3zM911 228.9l3.1 6.2h-6.3zM946.4 225.7l3.1 6.2h-6.3zM1007.5 233.4l3.1 6.2h-6.3zM916 253.8l3.1 6.2h-6.3zM953.5 244.4l3.1 6.2h-6.3zM960.5 252.8l3.1 6.2h-6.3zM966.8 252.8l3.1 6.2h-6.3zM984.2 244.4l3.1 6.2h-6.3zM942.1 267l3.1 6.2h-6.3zM945.3 267l3.1 6.2h-6.3zM959.5 268.6l3.1 6.2h-6.3zM956.1 273.8l3.1 6.2h-6.3zM974.2 274.6l3.1 6.2h-6.3zM981.1 272.8l3.1 6.2h-6.3zM985.8 269.6l3.1 6.2h-6.3zM988.4 264.4l3.1 6.2h-6.3zM994.2 265.4l3.1 6.2h-6.3zM996.3 265.4l3.1 6.2h-6.3zM966.3 278l3.1 6.2h-6.3zM931.6 274.9l3.1 6.2h-6.3zM929.5 283.3l3.1 6.2h-6.3zM932.1 288l3.1 6.2h-6.3zM982.6 286.5l3.1 6.2h-6.3zM977.9 287.5l3.1 6.2h-6.3zM987.9 289.6l3.1 6.2h-6.3zM995.3 273.8l3.1 6.2h-6.3zM998.4 285.4l3.1 6.2h-6.3zM945.3 289.6l3.1 6.2h-6.3zM947.9 287l3.1 6.2h-6.3zM991.1 274.9l3.1 6.2h-6.3zM917.1 312l3.1 6.2h-6.3zM916.3 318.8l3.1 6.2h-6.3zM912.6 302l3.1 6.2h-6.3zM900.5 322l3.1 6.2h-6.3zM926.8 325.1l3.1 6.2h-6.3zM921.6 327.2l3.1 6.2h-6.3zM933.9 336.2l3.1 6.2h-6.3zM934.2 341.5l3.1 6.2h-6.3zM947.9 332.5l3.1 6.2h-6.3zM954.2 331.5l3.1 6.2h-6.3zM958.9 327.8l3.1 6.2h-6.3zM955.8 336.2l3.1 6.2h-6.3zM965.3 333l3.1 6.2h-6.3zM970 333.6l3.1 6.2h-6.3zM975.3 331.5l3.1 6.2h-6.3zM979.5 331.5l3.1 6.2h-6.3zM960.5 348.3l3.1 6.2h-6.3zM971.6 346.2l3.1 6.2h-6.3zM977.4 339.9l3.1 6.2h-6.3zM978.4 344.6l3.1 6.2h-6.3zM978.9 350.4l3.1 6.2h-6.3zM984.7 353l3.1 6.2h-6.3zM992.1 352l3.1 6.2h-6.3zM995.3 353.6l3.1 6.2h-6.3zM987.4 337.8l3.1 6.2h-6.3zM991.6 336.7l3.1 6.2h-6.3zM998.9 344.1l3.1 6.2h-6.3zM976.8 357.2l3.1 6.2h-6.3zM948.4 318.3l3.1 6.2h-6.3zM976.8 318.8l3.1 6.2h-6.3zM985.8 297.8l3.1 6.2h-6.3zM990 292.5l3.1 6.2h-6.3zM986.8 322l3.1 6.2h-6.3zM990 328.3l3.1 6.2h-6.3zM994.2 327.2l3.1 6.2h-6.3zM997.4 329.4l3.1 6.2h-6.3zM985.8 328.3l3.1 6.2h-6.3zM961.6 305.1l3.1 6.2h-6.3zM957.4 299.9l3.1 6.2h-6.3zM952.1 298.8l3.1 6.2h-6.3zM976.3 293.6l3.1 6.2h-6.3zM971.1 292.5l3.1 6.2h-6.3zM962.6 291.5l3.1 6.2h-6.3zM943.7 293.6l3.1 6.2h-6.3zM939.5 299.9l3.1 6.2h-6.3zM981.6 307.2l3.1 6.2h-6.3zM985.8 308.3l3.1 6.2h-6.3zM991.1 317.8l3.1 6.2h-6.3zM988.9 322l3.1 6.2h-6.3zM943.7 308.3l3.1 6.2h-6.3zM959.5 316.7l3.1 6.2h-6.3zM964.7 322l3.1 6.2h-6.3zM973.2 313.6l3.1 6.2h-6.3zM978.4 312.5l3.1 6.2h-6.3zM999.5 291.5l3.1 6.2h-6.3zM1027.1 252.2l3.1 6.2h-6.3zM1030.3 249.1l3.1 6.2h-6.3zM1030.8 252.2l3.1 6.2h-6.3zM1038.7 252.8l3.1 6.2h-6.3zM1063.6 263.5l3.1 6.2h-6.3zM1061.3 269.1l3.1 6.2h-6.3zM1053.7 272.8l3.1 6.2h-6.3zM1053.9 276.5l3.1 6.2h-6.3zM996.6 274.9l3.1 6.2h-6.3zM1025 273.8l3.1 6.2h-6.3zM1028.2 274.9l3.1 6.2h-6.3zM1030.8 277l3.1 6.2h-6.3zM1028.7 280.1l3.1 6.2h-6.3zM1033.4 280.1l3.1 6.2h-6.3zM1036.6 280.1l3.1 6.2h-6.3zM1043.2 283.3l3.1 6.2h-6.3zM1025.3 288l3.1 6.2h-6.3zM1010.8 289.6l3.1 6.2h-6.3zM1013.9 289.6l3.1 6.2h-6.3zM1018.2 290.7l3.1 6.2h-6.3zM1021.3 291.7l3.1 6.2h-6.3zM1043.2 290.7l3.1 6.2h-6.3zM1057.6 290.7l3.1 6.2h-6.3zM1061.8 292.2l3.1 6.2h-6.3zM1001.8 292.2l3.1 6.2h-6.3zM976.9 360l3.1 6.2h-6.3zM985.8 355.5l3.1 6.2h-6.3zM993.8 354.7l3.1 6.2h-6.3zM1003.1 356.3l3.1 6.2h-6.3zM990.9 362.7l3.1 6.2h-6.3zM1014.7 361.6l3.1 6.2h-6.3zM994.9 371.2l3.1 6.2h-6.3zM987.4 375.6l3.1 6.2h-6.3zM1034 369.9l3.1 6.2h-6.3zM1034 378l3.1 6.2h-6.3zM1035.6 363.5l3.1 6.2h-6.3zM1035.6 358.7l3.1 6.2h-6.3zM1042.8 368.3l3.1 6.2h-6.3zM1046 368.3l3.1 6.2h-6.3zM1046.5 376.4l3.1 6.2h-6.3zM1052.5 378l3.1 6.2h-6.3zM1058.1 377.2l3.1 6.2h-6.3zM1060.5 383.3l3.1 6.2h-6.3zM1067.7 383.6l3.1 6.2h-6.3zM1066.1 394.4l3.1 6.2h-6.3zM995.4 391.3l3.1 6.2h-6.3zM1009.1 400.8l3.1 6.2h-6.3zM1021.4 414.1l3.1 6.2h-6.3zM1069 412.5l3.1 6.2h-6.3zM1056.5 363.5l3.1 6.2h-6.3zM1061.3 368.3l3.1 6.2h-6.3zM1064.5 361.9l3.1 6.2h-6.3zM1054.9 358.7l3.1 6.2h-6.3zM1059.7 357.1l3.1 6.2h-6.3zM1070.9 411.7l3.1 6.2h-6.3zM1087.8 397.5l3.1 6.2h-6.3zM1094.2 391.6l3.1 6.2h-6.3zM1097.8 386.7l3.1 6.2h-6.3zM1089.7 382.7l3.1 6.2h-6.3zM1081.4 381.1l3.1 6.2h-6.3zM1073.7 386.4l3.1 6.2h-6.3zM1072.1 373.9l3.1 6.2h-6.3zM1063.2 369.1l3.1 6.2h-6.3zM1104.2 406.8l3.1 6.2h-6.3zM1117.1 407.6l3.1 6.2h-6.3zM1127.8 404.4l3.1 6.2h-6.3zM1138 406.8l3.1 6.2h-6.3zM1138 410.9l3.1 6.2h-6.3zM1131.5 419.7l3.1 6.2h-6.3zM1135.2 426.9l3.1 6.2h-6.3zM1142 424.5l3.1 6.2h-6.3zM1146 413.3l3.1 6.2h-6.3zM1148.4 420.5l3.1 6.2h-6.3zM1149.2 430.1l3.1 6.2h-6.3zM1154.1 411.7l3.1 6.2h-6.3zM1156.5 417.3l3.1 6.2h-6.3zM1156.5 423.7l3.1 6.2h-6.3zM1160.5 426.9l3.1 6.2h-6.3zM1162.9 413.3l3.1 6.2h-6.3zM1164.5 426.9l3.1 6.2h-6.3zM1166.9 410.9l3.1 6.2h-6.3zM1168 421.3l3.1 6.2h-6.3zM1174.1 426.9l3.1 6.2h-6.3zM1177 418.1l3.1 6.2h-6.3zM1179 423.7l3.1 6.2h-6.3zM1185.1 430.5l3.1 6.2h-6.3zM1166.1 399.3l3.1 6.2h-6.3zM1139.1 375.5l3.1 6.2h-6.3zM1143.6 383.5l3.1 6.2h-6.3zM1147.6 391.6l3.1 6.2h-6.3zM1142 395.6l3.1 6.2h-6.3zM1125.1 353.8l3.1 6.2h-6.3zM1127.2 361l3.1 6.2h-6.3zM1119.5 357.8l3.1 6.2h-6.3zM1109.8 338.5l3.1 6.2h-6.3zM1105 338.5l3.1 6.2h-6.3zM1097.8 332.1l3.1 6.2h-6.3zM1090.5 334.5l3.1 6.2h-6.3zM1128.3 373.1l3.1 6.2h-6.3zM1121.9 366.6l3.1 6.2h-6.3zM1114.7 349.8l3.1 6.2h-6.3zM1132.3 396.4l3.1 6.2h-6.3zM1127.5 396.4l3.1 6.2h-6.3zM1116.3 400.4l3.1 6.2h-6.3zM1101.8 401.2l3.1 6.2h-6.3zM1106.6 402.8l3.1 6.2h-6.3zM1177.6 440.9l3.1 6.2h-6.3zM1050.9 297.7l3.1 6.2h-6.3zM1062.5 302.8l3.1 6.2h-6.3zM1081.8 304.1l3.1 6.2h-6.3zM1084.4 308.6l3.1 6.2h-6.3zM1071.5 308.6l3.1 6.2h-6.3zM1065.1 309.3l3.1 6.2h-6.3zM1058 309.9l3.1 6.2h-6.3zM1071.5 318.3l3.1 6.2h-6.3zM1079.9 318.3l3.1 6.2h-6.3zM1086.9 318.3l3.1 6.2h-6.3zM1045.1 305.4l3.1 6.2h-6.3zM1042.6 297.7l3.1 6.2h-6.3z" fill="none" stroke="#1b1b1b" stroke-width="1.4" stroke-linejoin="miter"/>
<path d="M805.6 194.2l6.2 6.2M811.8 194.2l-6.2 6.2M838.2 213.4l6.2 6.2M844.4 213.4l-6.2 6.2M860.3 291.9l6.2 6.2M866.5 291.9l-6.2 6.2M727.2 377.5l6.2 6.2M733.4 377.5l-6.2 6.2M729.8 377.5l6.2 6.2M736 377.5l-6.2 6.2M733.6 377.7l6.2 6.2M739.8 377.7l-6.2 6.2M739.4 377.9l6.2 6.2M745.6 377.9l-6.2 6.2" fill="none" stroke="#3c3c3c" stroke-width="1.1"/>
<g fill="#9d9d9d" stroke="#383838" stroke-width="1.6"><circle cx="838.5" cy="77.2" r="3.2"/><circle cx="857.8" cy="154.9" r="3.2"/><circle cx="827.7" cy="162.3" r="3.2"/><circle cx="728.6" cy="205.6" r="3.2"/><circle cx="745.3" cy="227.2" r="3.2"/><circle cx="797.8" cy="214.7" r="3.2"/><circle cx="865.6" cy="186.3" r="3.2"/><circle cx="856.3" cy="234.6" r="3.2"/><circle cx="785.2" cy="236.8" r="3.2"/><circle cx="809.4" cy="236.8" r="3.2"/><circle cx="878.8" cy="220.1" r="3.2"/><circle cx="876.3" cy="236.8" r="3.2"/><circle cx="950.5" cy="221" r="3.2"/><circle cx="930.3" cy="226.9" r="3.2"/><circle cx="948.7" cy="233.3" r="3.2"/><circle cx="907.2" cy="229.1" r="3.2"/><circle cx="885.3" cy="231" r="3.2"/><circle cx="890.7" cy="229.1" r="3.2"/><circle cx="897.8" cy="231.3" r="3.2"/><circle cx="894.3" cy="235.5" r="3.2"/><circle cx="930.3" cy="236.8" r="3.2"/><circle cx="942.5" cy="236.2" r="3.2"/><circle cx="802.1" cy="247.4" r="3.2"/><circle cx="801.3" cy="255.4" r="3.2"/><circle cx="808.7" cy="255.8" r="3.2"/><circle cx="851.4" cy="247.7" r="3.2"/><circle cx="866.6" cy="243.6" r="3.2"/><circle cx="863.4" cy="249.1" r="3.2"/><circle cx="873.7" cy="245.5" r="3.2"/><circle cx="877.6" cy="244.9" r="3.2"/><circle cx="876.3" cy="250.6" r="3.2"/><circle cx="874.3" cy="256.2" r="3.2"/><circle cx="872.4" cy="262.6" r="3.2"/><circle cx="852.5" cy="260.9" r="3.2"/><circle cx="837.3" cy="319.5" r="3.2"/><circle cx="883.7" cy="235" r="3.2"/><circle cx="897.9" cy="239.7" r="3.2"/><circle cx="887.7" cy="241.3" r="3.2"/><circle cx="880.5" cy="242.4" r="3.2"/><circle cx="892.6" cy="242.9" r="3.2"/><circle cx="884.2" cy="245.5" r="3.2"/><circle cx="905.8" cy="242.1" r="3.2"/><circle cx="910.5" cy="241.3" r="3.2"/><circle cx="915.8" cy="244.5" r="3.2"/><circle cx="910.5" cy="246.6" r="3.2"/><circle cx="888.9" cy="251.3" r="3.2"/><circle cx="894.4" cy="251.8" r="3.2"/><circle cx="900" cy="252.9" r="3.2"/><circle cx="905.3" cy="250.8" r="3.2"/><circle cx="912.6" cy="251.3" r="3.2"/><circle cx="881.6" cy="256.6" r="3.2"/><circle cx="882.6" cy="263.4" r="3.2"/><circle cx="886.8" cy="261.8" r="3.2"/><circle cx="902.6" cy="260.8" r="3.2"/><circle cx="915.8" cy="269" r="3.2"/><circle cx="910.5" cy="272.4" r="3.2"/><circle cx="922.6" cy="270.3" r="3.2"/><circle cx="928.4" cy="268.2" r="3.2"/><circle cx="923.2" cy="277.6" r="3.2"/><circle cx="926.1" cy="248.7" r="3.2"/><circle cx="936.5" cy="264.8" r="3.2"/><circle cx="948.4" cy="265.2" r="3.2"/><circle cx="953.7" cy="263.1" r="3.2"/><circle cx="963.2" cy="263.4" r="3.2"/><circle cx="977.6" cy="250.8" r="3.2"/><circle cx="943.2" cy="281.8" r="3.2"/><circle cx="953.9" cy="282.7" r="3.2"/><circle cx="915.3" cy="294.5" r="3.2"/><circle cx="909.5" cy="299.5" r="3.2"/><circle cx="909.5" cy="303.7" r="3.2"/><circle cx="919.5" cy="304.7" r="3.2"/><circle cx="926.8" cy="306.8" r="3.2"/><circle cx="932.6" cy="308.4" r="3.2"/><circle cx="922.6" cy="314.7" r="3.2"/><circle cx="931.6" cy="318.9" r="3.2"/><circle cx="923.2" cy="321.4" r="3.2"/><circle cx="911.1" cy="321.4" r="3.2"/><circle cx="911.6" cy="315.3" r="3.2"/><circle cx="887.6" cy="313.4" r="3.2"/><circle cx="894.4" cy="322.1" r="3.2"/><circle cx="902.8" cy="328.4" r="3.2"/><circle cx="908.4" cy="324.7" r="3.2"/><circle cx="913.2" cy="328.1" r="3.2"/><circle cx="917.9" cy="328.7" r="3.2"/><circle cx="946.6" cy="305.8" r="3.2"/><circle cx="955.1" cy="311.6" r="3.2"/><circle cx="949.5" cy="314.9" r="3.2"/><circle cx="962.6" cy="300.5" r="3.2"/><circle cx="942.6" cy="323.2" r="3.2"/><circle cx="947.9" cy="326.8" r="3.2"/><circle cx="943.2" cy="330" r="3.2"/><circle cx="937.9" cy="321.6" r="3.2"/><circle cx="970" cy="320.3" r="3.2"/><circle cx="982.6" cy="319.5" r="3.2"/><circle cx="995.8" cy="305.3" r="3.2"/><circle cx="995.8" cy="315.3" r="3.2"/><circle cx="997.9" cy="321.4" r="3.2"/><circle cx="977.9" cy="327.9" r="3.2"/><circle cx="967.6" cy="329.2" r="3.2"/><circle cx="971.6" cy="331.6" r="3.2"/><circle cx="957.9" cy="345.3" r="3.2"/><circle cx="966.8" cy="346.8" r="3.2"/><circle cx="996.3" cy="340.3" r="3.2"/><circle cx="918.9" cy="360" r="3.2"/><circle cx="961.6" cy="315.3" r="3.2"/><circle cx="818.6" cy="346.9" r="3.2"/><circle cx="1000.3" cy="300.5" r="3.2"/><circle cx="1011.3" cy="339.5" r="3.2"/><circle cx="890.2" cy="246.1" r="3.2"/><circle cx="895" cy="246.6" r="3.2"/><circle cx="899.8" cy="245.9" r="3.2"/><circle cx="901.9" cy="242.6" r="3.2"/><circle cx="884.7" cy="253.6" r="3.2"/><circle cx="886.7" cy="257.7" r="3.2"/></g>
<g fill="#d53a2a" stroke="#4a201a" stroke-width="1.2"><rect x="856.9" y="254.1" width="8.6" height="8.6"/><rect x="853.1" y="263.7" width="8.6" height="8.6"/><rect x="851.4" y="279.1" width="8.6" height="8.6"/><rect x="860.8" y="277.2" width="8.6" height="8.6"/><rect x="866.2" y="284.9" width="8.6" height="8.6"/><rect x="873.3" y="287.5" width="8.6" height="8.6"/><rect x="851.4" y="292" width="8.6" height="8.6"/><rect x="832.1" y="294.8" width="8.6" height="8.6"/><rect x="852" y="300.4" width="8.6" height="8.6"/><rect x="870.7" y="299.1" width="8.6" height="8.6"/><rect x="868.8" y="305.5" width="8.6" height="8.6"/><rect x="948.3" y="249.6" width="8.6" height="8.6"/><rect x="894.6" y="262" width="8.6" height="8.6"/><rect x="875.2" y="273.9" width="8.6" height="8.6"/><rect x="882" y="280.7" width="8.6" height="8.6"/><rect x="869.4" y="280.7" width="8.6" height="8.6"/><rect x="893.3" y="276" width="8.6" height="8.6"/><rect x="903.6" y="279.6" width="8.6" height="8.6"/><rect x="910.8" y="283.3" width="8.6" height="8.6"/><rect x="963.4" y="283.5" width="8.6" height="8.6"/><rect x="948.9" y="288.1" width="8.6" height="8.6"/><rect x="919.9" y="290.7" width="8.6" height="8.6"/><rect x="894.6" y="288.1" width="8.6" height="8.6"/><rect x="929.6" y="296.8" width="8.6" height="8.6"/><rect x="966.4" y="304.4" width="8.6" height="8.6"/><rect x="934.3" y="311.5" width="8.6" height="8.6"/><rect x="896.2" y="311.5" width="8.6" height="8.6"/><rect x="902" y="308.3" width="8.6" height="8.6"/></g>
<path d="" fill="none" stroke="#1b1b1b" stroke-width="1.4" stroke-linejoin="miter"/>
<g fill="#9d9d9d" stroke="#383838" stroke-width="1.6"><circle cx="877.6" cy="267" r="3.2"/><circle cx="788.6" cy="286.3" r="3.2"/><circle cx="797.8" cy="285.8" r="3.2"/><circle cx="816.2" cy="285.8" r="3.2"/><circle cx="828.4" cy="283.2" r="3.2"/><circle cx="836" cy="282.2" r="3.2"/><circle cx="874" cy="278.9" r="3.2"/><circle cx="878.8" cy="284.1" r="3.2"/><circle cx="852.5" cy="287.6" r="3.2"/><circle cx="860.2" cy="306" r="3.2"/><circle cx="887.4" cy="271.3" r="3.2"/><circle cx="893.4" cy="268.7" r="3.2"/><circle cx="892.6" cy="274.7" r="3.2"/><circle cx="905.3" cy="268.7" r="3.2"/><circle cx="900" cy="276.1" r="3.2"/><circle cx="884.2" cy="290.3" r="3.2"/><circle cx="895.8" cy="285.5" r="3.2"/><circle cx="894.2" cy="291.3" r="3.2"/><circle cx="905.8" cy="289.2" r="3.2"/><circle cx="905.8" cy="279.7" r="3.2"/><circle cx="883.7" cy="295.5" r="3.2"/><circle cx="893.7" cy="297.9" r="3.2"/><circle cx="905.3" cy="305.3" r="3.2"/><circle cx="899.5" cy="306.3" r="3.2"/></g>
<g fill="#3364a9" stroke="#1e3a68" stroke-width="1.4"><circle cx="822.3" cy="185.4" r="4.2"/><circle cx="866.6" cy="205.9" r="4.2"/><circle cx="910.6" cy="201.4" r="4.2"/><circle cx="940.6" cy="229.1" r="4.2"/><circle cx="940.5" cy="243.7" r="4.2"/><circle cx="935.5" cy="250.8" r="4.2"/><circle cx="924.2" cy="258.2" r="4.2"/><circle cx="932.8" cy="258.9" r="4.2"/></g>
<g fill="#f9b22a" stroke="#5f4010" stroke-width="1.7"><circle cx="888.8" cy="118.7" r="4.0"/><circle cx="862.6" cy="134" r="4.0"/><circle cx="898.5" cy="158.4" r="4.0"/><circle cx="893.6" cy="169.3" r="4.0"/><circle cx="879.2" cy="158.9" r="4.0"/><circle cx="863" cy="176.4" r="4.0"/><circle cx="862.5" cy="191.8" r="4.0"/><circle cx="855.3" cy="195.7" r="4.0"/><circle cx="864.7" cy="198.6" r="4.0"/><circle cx="873.7" cy="219.2" r="4.0"/><circle cx="899.2" cy="192.4" r="4.0"/><circle cx="891.3" cy="198.6" r="4.0"/><circle cx="930.7" cy="212.4" r="4.0"/><circle cx="914.2" cy="219.8" r="4.0"/><circle cx="889.5" cy="166.1" r="4.0"/></g>
<g fill="#9d9d9d" stroke="#2a2a2a" stroke-width="1.8"><circle cx="879.5" cy="160.5" r="3.2"/></g>
<path d="M1032.2 185.8l5 5l-5 5l-5 -5zM836 265.6l5 5l-5 5l-5 -5zM905.3 268.9l5 5l-5 5l-5 -5zM915.8 272.4l5 5l-5 5l-5 -5zM926.8 268.9l5 5l-5 5l-5 -5zM923.2 283.7l5 5l-5 5l-5 -5zM970.5 263.7l5 5l-5 5l-5 -5zM992.1 279.8l5 5l-5 5l-5 -5zM886.8 296.8l5 5l-5 5l-5 -5zM897.9 295.5l5 5l-5 5l-5 -5zM956.1 317.6l5 5l-5 5l-5 -5zM1017.4 314.5l5 5l-5 5l-5 -5zM1053.9 320.8l5 5l-5 5l-5 -5z" fill="#f8b32a" stroke="#4f3810" stroke-width="1.4"/>
<path d="M891.5 154l6 6l-6 6l-6 -6z" fill="#2f9d4b" stroke="#2a3a2a" stroke-width="1.3"/></g>
<rect x="190" y="359" width="65" height="30" fill="#99cc00"/>
<text transform="translate(222.3,381) scale(1,1.05)" text-anchor="middle" font-size="23.3">G1-3</text>
<path d="M250.7 388.8C256 398 262 402.5 287 399.2" fill="none" stroke="#333" stroke-width="1.6"/>
<path d="M291.5 398.6l-6.5 -3.2l1 6.2z" fill="#222"/>
<rect x="910" y="105.5" width="65" height="30" fill="#99cc00"/>
<text transform="translate(942.3,127.6) scale(1,1.05)" text-anchor="middle" font-size="23.3">G1-3</text>
<path d="M910 129.3C898 130.5 893.5 137 893 148" fill="none" stroke="#333" stroke-width="1.6"/>
<path d="M892.8 153l-3.2 -6.5l6.4 0.2z" fill="#222"/>
<text transform="translate(98.9,39.5) scale(1,0.97)" text-anchor="end">0,5</text>
<text transform="translate(98.9,123) scale(1,0.97)" text-anchor="end">0,4</text>
<text transform="translate(98.9,206.4) scale(1,0.97)" text-anchor="end">0,3</text>
<text transform="translate(98.9,289.3) scale(1,0.97)" text-anchor="end">0,2</text>
<text transform="translate(98.9,374.2) scale(1,0.97)" text-anchor="end">0,1</text>
<text transform="translate(90.2,458.5) scale(1,0.97)" text-anchor="end">0</text>
<text transform="translate(112.8,488) scale(1,0.97)" text-anchor="middle">70</text>
<text transform="translate(213.9,488) scale(1,0.97)" text-anchor="middle">75</text>
<text transform="translate(315.1,488) scale(1,0.97)" text-anchor="middle">80</text>
<text transform="translate(416.6,488) scale(1,0.97)" text-anchor="middle">85</text>
<text transform="translate(518.2,488) scale(1,0.97)" text-anchor="middle">90</text>
<text transform="translate(619.1,488) scale(1,0.97)" text-anchor="middle">95</text>
<text transform="translate(705.9,40) scale(1,0.97)" text-anchor="middle">12</text>
<text transform="translate(705.9,87.7) scale(1,0.97)" text-anchor="middle">11</text>
<text transform="translate(705.9,135.4) scale(1,0.97)" text-anchor="middle">10</text>
<text transform="translate(705.1,183) scale(1,0.97)" text-anchor="middle">9</text>
<text transform="translate(705.1,230.7) scale(1,0.97)" text-anchor="middle">8</text>
<text transform="translate(705.1,278.4) scale(1,0.97)" text-anchor="middle">7</text>
<text transform="translate(705.1,326.1) scale(1,0.97)" text-anchor="middle">6</text>
<text transform="translate(705.1,373.8) scale(1,0.97)" text-anchor="middle">5</text>
<text transform="translate(705.1,421.4) scale(1,0.97)" text-anchor="middle">4</text>
<text transform="translate(705.1,469.1) scale(1,0.97)" text-anchor="middle">3</text>
<text transform="translate(726.8,488) scale(1,0.97)" text-anchor="middle">15</text>
<text transform="translate(834.6,488) scale(1,0.97)" text-anchor="middle">18</text>
<text transform="translate(941.8,488) scale(1,0.97)" text-anchor="middle">21</text>
<text transform="translate(1050.4,488) scale(1,0.97)" text-anchor="middle">24</text>
<text transform="translate(1158.1,488) scale(1,0.97)" text-anchor="middle">27</text>
<text transform="translate(1266.8,488) scale(1,0.97)" text-anchor="middle">30</text>
<text transform="translate(37,30.5) scale(1,1.05)" text-anchor="start" font-style="italic">a</text>
<text transform="translate(662.7,43.5) scale(1,1.05)" text-anchor="start" font-style="italic">б</text>
<text transform="translate(358.4,526.6) scale(1,1.05)" text-anchor="middle" >Mg#</text>
<text transform="translate(992.7,526.7) scale(1,1.05)" text-anchor="middle" >MgO, мас.%</text>
<text transform="translate(47,258.7) rotate(-90) scale(1,1.05)" text-anchor="middle">TiO<tspan font-size="15.5" dy="4">2</tspan><tspan dy="-4">, мас.%</tspan></text>
<text transform="translate(673.2,284.6) rotate(-90) scale(1,1.05)" text-anchor="middle">FeO, мас.%</text>
<circle cx="51.2" cy="577.5" r="7.1" fill="#f7a62c" stroke="#33240f" stroke-width="2"/>
<text transform="translate(66.8,586.7) scale(1,1.05)" text-anchor="start" textLength="586" lengthAdjust="spacingAndGlyphs">Из флогопит-гранатовых лерцолитов трубки им. В.Гриба</text>
<path d="M51 595.2l10.6 10.5l-10.6 10.5l-10.6 -10.5z" fill="#ffe600" stroke="#4a3c10" stroke-width="1.6"/>
<text transform="translate(65.5,612.8) scale(1,1.05)" text-anchor="start" textLength="606.5" lengthAdjust="spacingAndGlyphs">Включения в алмазах месторождения им. М.В.Ломоносова</text>
<circle cx="50.8" cy="632.3" r="7.4" fill="#bdbdbd" stroke="#1c1c1c" stroke-width="2.1"/>
<text transform="translate(66.8,641.2) scale(1,1.05)" text-anchor="start" textLength="494" lengthAdjust="spacingAndGlyphs">Включения в алмазах лерцолитовой ассоциации</text>
<path d="M44.7 651.4l12.6 12.6M57.3 651.4l-12.6 12.6" stroke="#4a4a4a" stroke-width="1.35" fill="none"/>
<text transform="translate(64.2,666) scale(1,1.05)" text-anchor="start" textLength="469" lengthAdjust="spacingAndGlyphs">Включения в алмазах верлитовой ассоциации</text>
<circle cx="721" cy="577.3" r="7.3" fill="#3a6cb4" stroke="#181c24" stroke-width="2.1"/>
<text transform="translate(736.8,583.9) scale(1,1.05)" text-anchor="start" textLength="492.7" lengthAdjust="spacingAndGlyphs">Из гранатовых перидотитов трубки им. В.Гриба</text>
<rect x="713.2" y="593.6" width="16.6" height="16.6" fill="#d23a2c" stroke="#b8b8b8" stroke-width="0.8"/>
<text transform="translate(738,610.8) scale(1,1.05)" text-anchor="start" textLength="365.8" lengthAdjust="spacingAndGlyphs">Из алмазосодержащих перидотитов</text>
<path d="M721.5 621.6l9 16.9h-18z" fill="none" stroke="#3a3a3a" stroke-width="1.8"/>
<text transform="translate(738,640.7) scale(1,1.05)" text-anchor="start" textLength="514" lengthAdjust="spacingAndGlyphs">Включения в алмазах гарцбургитовой ассоциации</text>
</svg>
</body></html>
